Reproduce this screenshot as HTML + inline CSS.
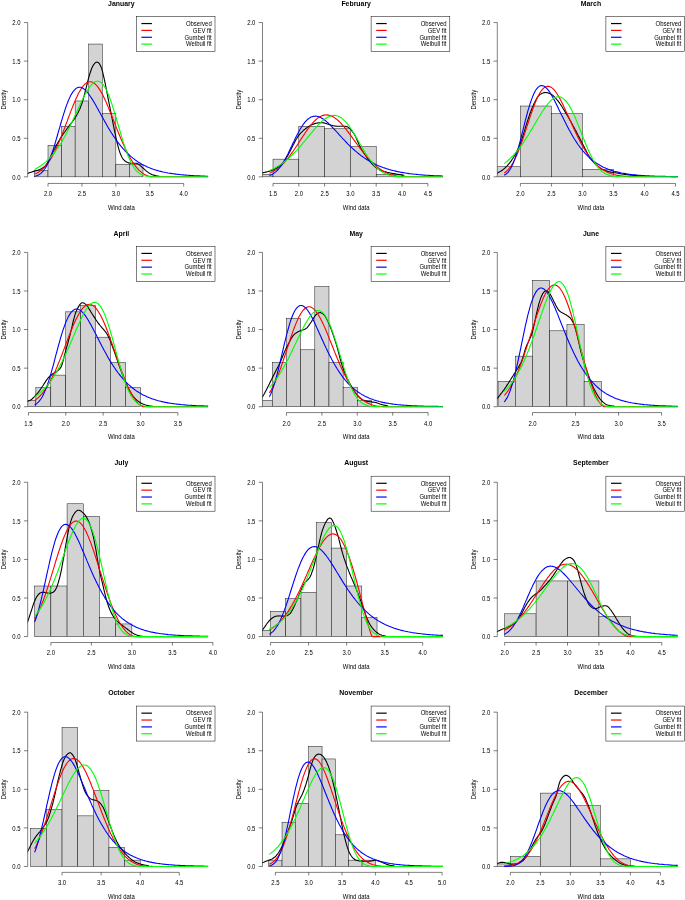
<!DOCTYPE html>
<html lang="en"><head><meta charset="utf-8"><title>Monthly wind data density fits</title>
<style>
html,body{margin:0;padding:0;background:#fff;}
body{width:685px;height:900px;overflow:hidden;}
svg{display:block;}
</style></head><body>
<svg width="685" height="900" viewBox="0 0 685 900" font-family='"Liberation Sans", sans-serif' font-size="5.95" fill="#000">
<defs>
<clipPath id="cp0"><rect x="27.70" y="16.38" width="187.30" height="166.64"/></clipPath>
<clipPath id="cp1"><rect x="262.50" y="16.38" width="187.30" height="166.64"/></clipPath>
<clipPath id="cp2"><rect x="497.30" y="16.38" width="187.30" height="166.64"/></clipPath>
<clipPath id="cp3"><rect x="27.70" y="246.25" width="187.30" height="166.64"/></clipPath>
<clipPath id="cp4"><rect x="262.50" y="246.25" width="187.30" height="166.64"/></clipPath>
<clipPath id="cp5"><rect x="497.30" y="246.25" width="187.30" height="166.64"/></clipPath>
<clipPath id="cp6"><rect x="27.70" y="476.12" width="187.30" height="166.64"/></clipPath>
<clipPath id="cp7"><rect x="262.50" y="476.12" width="187.30" height="166.64"/></clipPath>
<clipPath id="cp8"><rect x="497.30" y="476.12" width="187.30" height="166.64"/></clipPath>
<clipPath id="cp9"><rect x="27.70" y="705.99" width="187.30" height="166.64"/></clipPath>
<clipPath id="cp10"><rect x="262.50" y="705.99" width="187.30" height="166.64"/></clipPath>
<clipPath id="cp11"><rect x="497.30" y="705.99" width="187.30" height="166.64"/></clipPath>
</defs>
<g id="panel-january">
<text transform="translate(121.35,5.75) scale(1,1.06)" text-anchor="middle" font-size="6.9" font-weight="bold">January</text>
<g clip-path="url(#cp0)" stroke="#000" stroke-width="0.45" fill="#d3d3d3">
<rect x="34.43" y="170.53" width="13.57" height="6.32"/>
<rect x="48.00" y="145.23" width="13.57" height="31.62"/>
<rect x="61.57" y="126.26" width="13.57" height="50.59"/>
<rect x="75.14" y="100.96" width="13.57" height="75.89"/>
<rect x="88.71" y="44.05" width="13.57" height="132.80"/>
<rect x="102.28" y="113.61" width="13.57" height="63.24"/>
<rect x="115.85" y="164.20" width="13.57" height="12.65"/>
<rect x="129.42" y="164.20" width="13.57" height="12.65"/>
</g>
<g clip-path="url(#cp0)" fill="none" stroke-width="1.1" stroke-linejoin="round">
<path d="M19.7,175.7 20.4,175.5 21.1,175.4 21.8,175.1 22.5,174.9 23.2,174.7 23.9,174.5 24.6,174.3 25.3,174.0 26.0,173.8 26.7,173.6 27.4,173.4 28.1,173.2 28.8,172.9 29.5,172.7 30.2,172.5 30.9,172.3 31.6,172.1 32.3,171.8 33.0,171.6 33.7,171.4 34.4,171.2 35.2,171.0 35.9,170.8 36.6,170.6 37.3,170.4 38.0,170.2 38.7,169.9 39.4,169.7 40.1,169.4 40.8,169.1 41.5,168.7 42.2,168.3 42.9,167.8 43.6,167.3 44.3,166.7 45.0,166.1 45.7,165.3 46.4,164.4 47.1,163.4 47.8,162.2 48.5,161.0 49.2,159.7 49.9,158.4 50.6,157.0 51.3,155.5 52.0,154.0 52.7,152.5 53.4,151.1 54.1,149.6 54.8,148.3 55.5,146.9 56.2,145.6 56.9,144.4 57.6,143.1 58.3,141.9 59.0,140.7 59.7,139.6 60.4,138.4 61.1,137.3 61.8,136.2 62.5,135.1 63.2,134.0 63.9,133.0 64.7,132.0 65.4,131.0 66.1,130.0 66.8,129.0 67.5,128.0 68.2,127.1 68.9,126.1 69.6,125.2 70.3,124.3 71.0,123.4 71.7,122.5 72.4,121.6 73.1,120.6 73.8,119.7 74.5,118.6 75.2,117.6 75.9,116.4 76.6,115.2 77.3,114.0 78.0,112.7 78.7,111.3 79.4,109.8 80.1,108.2 80.8,106.4 81.5,104.5 82.2,102.5 82.9,100.2 83.6,97.7 84.3,95.1 85.0,92.4 85.7,89.7 86.4,86.9 87.1,84.0 87.8,81.2 88.5,78.4 89.2,75.9 89.9,73.6 90.6,71.5 91.3,69.5 92.0,67.8 92.7,66.3 93.4,65.1 94.2,64.0 94.9,63.2 95.6,62.6 96.3,62.2 97.0,62.1 97.7,62.3 98.4,62.7 99.1,63.4 99.8,64.4 100.5,65.7 101.2,67.3 101.9,69.4 102.6,71.9 103.3,74.8 104.0,77.8 104.7,81.1 105.4,84.5 106.1,88.0 106.8,91.6 107.5,95.2 108.2,98.8 108.9,102.3 109.6,105.8 110.3,109.3 111.0,112.9 111.7,116.4 112.4,120.0 113.1,123.6 113.8,127.1 114.5,130.6 115.2,134.0 115.9,137.3 116.6,140.4 117.3,143.4 118.0,146.1 118.7,148.7 119.4,151.0 120.1,153.0 120.8,154.8 121.5,156.3 122.2,157.7 122.9,158.8 123.7,159.7 124.4,160.5 125.1,161.1 125.8,161.5 126.5,162.0 127.2,162.3 127.9,162.6 128.6,162.9 129.3,163.0 130.0,163.1 130.7,163.2 131.4,163.2 132.1,163.2 132.8,163.2 133.5,163.2 134.2,163.2 134.9,163.3 135.6,163.3 136.3,163.3 137.0,163.5 137.7,163.8 138.4,164.1 139.1,164.6 139.8,165.2 140.5,165.8 141.2,166.4 141.9,167.1 142.6,167.7 143.3,168.3 144.0,168.9 144.7,169.6 145.4,170.2 146.1,170.8 146.8,171.4 147.5,171.9 148.2,172.4 148.9,172.9 149.6,173.3 150.3,173.7 151.0,174.0 151.7,174.4 152.4,174.7 153.2,174.9 153.9,175.2 154.6,175.4 155.3,175.6 156.0,175.7 156.7,175.9 157.4,176.0 158.1,176.1 158.8,176.2 159.5,176.3" stroke="#000"/>
<path d="M34.6,174.0 35.9,173.5 37.1,172.9 38.4,172.2 39.6,171.4 40.9,170.5 42.1,169.5 43.4,168.4 44.6,167.1 45.9,165.7 47.1,164.2 48.4,162.5 49.6,160.7 50.9,158.7 52.1,156.6 53.4,154.3 54.6,151.9 55.8,149.3 57.1,146.6 58.3,143.8 59.6,140.8 60.8,137.8 62.1,134.6 63.3,131.4 64.6,128.1 65.8,124.7 67.1,121.4 68.3,118.0 69.6,114.7 70.8,111.4 72.1,108.1 73.3,105.0 74.6,102.0 75.8,99.1 77.1,96.4 78.3,93.8 79.6,91.5 80.8,89.4 82.0,87.5 83.3,85.9 84.5,84.5 85.8,83.4 87.0,82.5 88.3,82.0 89.5,81.7 90.8,81.7 92.0,82.0 93.3,82.6 94.5,83.5 95.8,84.6 97.0,85.9 98.3,87.6 99.5,89.4 100.8,91.4 102.0,93.7 103.3,96.1 104.5,98.7 105.8,101.4 107.0,104.2 108.2,107.1 109.5,110.2 110.7,113.3 112.0,116.4 113.2,119.6 114.5,122.7 115.7,125.9 117.0,129.1 118.2,132.2 119.5,135.3 120.7,138.3 122.0,141.2 123.2,144.1 124.5,146.8 125.7,149.5 127.0,152.0 128.2,154.5 129.5,156.8 130.7,159.0 132.0,161.0 133.2,163.0 134.5,164.8 135.7,166.4 136.9,167.9 138.2,169.3 139.4,170.6 140.7,171.7 141.9,172.7 143.2,173.6 144.4,174.4 145.7,175.0 146.9,175.6 148.2,176.0 149.4,176.3 150.7,176.6 151.9,176.7 153.2,176.8 154.4,176.8 155.7,176.8 156.9,176.8 158.2,176.8 159.4,176.8 160.7,176.8 161.9,176.8 163.1,176.8 164.4,176.8 165.6,176.8 166.9,176.8 168.1,176.8 169.4,176.8 170.6,176.8 171.9,176.8 173.1,176.8 174.4,176.8 175.6,176.8 176.9,176.8 178.1,176.8 179.4,176.8 180.6,176.8 181.9,176.8 183.1,176.8 184.4,176.8 185.6,176.8 186.9,176.8 188.1,176.8 189.3,176.8 190.6,176.8 191.8,176.8 193.1,176.8 194.3,176.8 195.6,176.8 196.8,176.8 198.1,176.8 199.3,176.8 200.6,176.8 201.8,176.8 203.1,176.8 204.3,176.8 205.6,176.8 206.8,176.8 208.1,176.8" stroke="#ff0000"/>
<path d="M34.6,176.2 35.9,176.0 37.1,175.5 38.4,175.0 39.6,174.3 40.9,173.4 42.1,172.2 43.4,170.9 44.6,169.2 45.9,167.2 47.1,164.9 48.4,162.3 49.6,159.4 50.9,156.2 52.1,152.7 53.4,148.9 54.6,145.0 55.8,140.8 57.1,136.5 58.3,132.2 59.6,127.8 60.8,123.5 62.1,119.2 63.3,115.1 64.6,111.1 65.8,107.4 67.1,103.9 68.3,100.8 69.6,97.9 70.8,95.3 72.1,93.1 73.3,91.3 74.6,89.8 75.8,88.6 77.1,87.8 78.3,87.4 79.6,87.2 80.8,87.3 82.0,87.8 83.3,88.5 84.5,89.4 85.8,90.6 87.0,91.9 88.3,93.5 89.5,95.2 90.8,97.0 92.0,98.9 93.3,101.0 94.5,103.1 95.8,105.3 97.0,107.5 98.3,109.7 99.5,112.0 100.8,114.3 102.0,116.6 103.3,118.8 104.5,121.1 105.8,123.3 107.0,125.5 108.2,127.6 109.5,129.7 110.7,131.7 112.0,133.7 113.2,135.6 114.5,137.5 115.7,139.3 117.0,141.0 118.2,142.7 119.5,144.3 120.7,145.9 122.0,147.4 123.2,148.9 124.5,150.2 125.7,151.6 127.0,152.8 128.2,154.0 129.5,155.2 130.7,156.3 132.0,157.4 133.2,158.4 134.5,159.3 135.7,160.3 136.9,161.1 138.2,162.0 139.4,162.7 140.7,163.5 141.9,164.2 143.2,164.9 144.4,165.5 145.7,166.1 146.9,166.7 148.2,167.3 149.4,167.8 150.7,168.3 151.9,168.7 153.2,169.2 154.4,169.6 155.7,170.0 156.9,170.4 158.2,170.7 159.4,171.1 160.7,171.4 161.9,171.7 163.1,172.0 164.4,172.2 165.6,172.5 166.9,172.7 168.1,173.0 169.4,173.2 170.6,173.4 171.9,173.6 173.1,173.8 174.4,173.9 175.6,174.1 176.9,174.3 178.1,174.4 179.4,174.5 180.6,174.7 181.9,174.8 183.1,174.9 184.4,175.0 185.6,175.1 186.9,175.2 188.1,175.3 189.3,175.4 190.6,175.5 191.8,175.5 193.1,175.6 194.3,175.7 195.6,175.8 196.8,175.8 198.1,175.9 199.3,175.9 200.6,176.0 201.8,176.0 203.1,176.1 204.3,176.1 205.6,176.2 206.8,176.2 208.1,176.2" stroke="#0000ff"/>
<path d="M34.6,169.4 35.9,168.8 37.1,168.1 38.4,167.3 39.6,166.6 40.9,165.7 42.1,164.8 43.4,163.9 44.6,162.9 45.9,161.8 47.1,160.7 48.4,159.5 49.6,158.2 50.9,156.9 52.1,155.4 53.4,153.9 54.6,152.4 55.8,150.7 57.1,149.0 58.3,147.1 59.6,145.2 60.8,143.2 62.1,141.2 63.3,139.0 64.6,136.8 65.8,134.5 67.1,132.1 68.3,129.7 69.6,127.1 70.8,124.6 72.1,122.0 73.3,119.3 74.6,116.6 75.8,113.9 77.1,111.2 78.3,108.5 79.6,105.8 80.8,103.1 82.0,100.5 83.3,98.0 84.5,95.6 85.8,93.3 87.0,91.1 88.3,89.1 89.5,87.2 90.8,85.6 92.0,84.2 93.3,83.0 94.5,82.1 95.8,81.5 97.0,81.2 98.3,81.3 99.5,81.6 100.8,82.4 102.0,83.4 103.3,84.9 104.5,86.7 105.8,88.8 107.0,91.3 108.2,94.2 109.5,97.3 110.7,100.7 112.0,104.3 113.2,108.2 114.5,112.3 115.7,116.4 117.0,120.7 118.2,125.0 119.5,129.4 120.7,133.6 122.0,137.8 123.2,141.9 124.5,145.8 125.7,149.5 127.0,152.9 128.2,156.2 129.5,159.1 130.7,161.8 132.0,164.2 133.2,166.4 134.5,168.3 135.7,169.9 136.9,171.3 138.2,172.4 139.4,173.4 140.7,174.2 141.9,174.8 143.2,175.3 144.4,175.7 145.7,176.0 146.9,176.3 148.2,176.5 149.4,176.6 150.7,176.7 151.9,176.7 153.2,176.8 154.4,176.8 155.7,176.8 156.9,176.8 158.2,176.8 159.4,176.8 160.7,176.8 161.9,176.8 163.1,176.8 164.4,176.8 165.6,176.8 166.9,176.8 168.1,176.8 169.4,176.8 170.6,176.8 171.9,176.8 173.1,176.8 174.4,176.8 175.6,176.8 176.9,176.8 178.1,176.8 179.4,176.8 180.6,176.8 181.9,176.8 183.1,176.8 184.4,176.8 185.6,176.8 186.9,176.8 188.1,176.8 189.3,176.8 190.6,176.8 191.8,176.8 193.1,176.8 194.3,176.8 195.6,176.8 196.8,176.8 198.1,176.8 199.3,176.8 200.6,176.8 201.8,176.8 203.1,176.8 204.3,176.8 205.6,176.8 206.8,176.8 208.1,176.8" stroke="#00ff00"/>
</g>
<g stroke="#000" stroke-width="0.5" fill="none">
<path d="M27.70,176.85 V22.55 M27.70,176.85 h-3.8 M27.70,138.27 h-3.8 M27.70,99.70 h-3.8 M27.70,61.12 h-3.8 M27.70,22.55 h-3.8"/>
<path d="M48.00,183.45 H183.70 M48.00,183.45 v3.1 M81.92,183.45 v3.1 M115.85,183.45 v3.1 M149.77,183.45 v3.1 M183.70,183.45 v3.1"/>
</g>
<text transform="translate(20.60,179.55) scale(1,1.06)" text-anchor="end">0.0</text>
<text transform="translate(20.60,140.97) scale(1,1.06)" text-anchor="end">0.5</text>
<text transform="translate(20.60,102.40) scale(1,1.06)" text-anchor="end">1.0</text>
<text transform="translate(20.60,63.82) scale(1,1.06)" text-anchor="end">1.5</text>
<text transform="translate(20.60,25.25) scale(1,1.06)" text-anchor="end">2.0</text>
<text transform="translate(48.00,196.45) scale(1,1.06)" text-anchor="middle">2.0</text>
<text transform="translate(81.92,196.45) scale(1,1.06)" text-anchor="middle">2.5</text>
<text transform="translate(115.85,196.45) scale(1,1.06)" text-anchor="middle">3.0</text>
<text transform="translate(149.77,196.45) scale(1,1.06)" text-anchor="middle">3.5</text>
<text transform="translate(183.70,196.45) scale(1,1.06)" text-anchor="middle">4.0</text>
<text transform="translate(121.35,209.85) scale(1,1.06)" text-anchor="middle">Wind data</text>
<text transform="translate(5.90,99.70) rotate(-90) scale(1,1.06)" text-anchor="middle">Density</text>
<rect x="136.30" y="16.45" width="78.70" height="35.00" fill="#fff" stroke="#000" stroke-width="0.5"/>
<path d="M141.40,23.55 h10.5" stroke="#000" stroke-width="1.2" fill="none"/>
<text transform="translate(211.70,25.85) scale(1,1.06)" text-anchor="end">Observed</text>
<path d="M141.40,30.42 h10.5" stroke="#ff0000" stroke-width="1.2" fill="none"/>
<text transform="translate(211.70,32.72) scale(1,1.06)" text-anchor="end">GEV fit</text>
<path d="M141.40,37.29 h10.5" stroke="#0000ff" stroke-width="1.2" fill="none"/>
<text transform="translate(211.70,39.59) scale(1,1.06)" text-anchor="end">Gumbel fit</text>
<path d="M141.40,44.16 h10.5" stroke="#00ff00" stroke-width="1.2" fill="none"/>
<text transform="translate(211.70,46.46) scale(1,1.06)" text-anchor="end">Weibull fit</text>
</g>
<g id="panel-february">
<text transform="translate(356.15,5.75) scale(1,1.06)" text-anchor="middle" font-size="6.9" font-weight="bold">February</text>
<g clip-path="url(#cp1)" stroke="#000" stroke-width="0.45" fill="#d3d3d3">
<rect x="247.20" y="174.32" width="25.80" height="2.53"/>
<rect x="273.00" y="159.14" width="25.80" height="17.71"/>
<rect x="298.80" y="126.26" width="25.80" height="50.59"/>
<rect x="324.60" y="128.79" width="25.80" height="48.06"/>
<rect x="350.40" y="146.50" width="25.80" height="30.35"/>
<rect x="376.20" y="174.32" width="25.80" height="2.53"/>
</g>
<g clip-path="url(#cp1)" fill="none" stroke-width="1.1" stroke-linejoin="round">
<path d="M254.5,175.0 255.3,174.9 256.0,174.7 256.8,174.5 257.5,174.3 258.3,174.1 259.0,173.9 259.8,173.7 260.5,173.5 261.3,173.3 262.0,173.0 262.8,172.8 263.5,172.6 264.3,172.5 265.0,172.3 265.8,172.1 266.6,171.9 267.3,171.7 268.1,171.5 268.8,171.3 269.6,171.1 270.3,170.9 271.1,170.7 271.8,170.4 272.6,170.1 273.3,169.8 274.1,169.5 274.8,169.1 275.6,168.7 276.3,168.2 277.1,167.8 277.9,167.2 278.6,166.7 279.4,166.1 280.1,165.4 280.9,164.8 281.6,164.1 282.4,163.3 283.1,162.5 283.9,161.6 284.6,160.7 285.4,159.5 286.1,158.3 286.9,157.0 287.7,155.7 288.4,154.3 289.2,152.8 289.9,151.4 290.7,150.0 291.4,148.6 292.2,147.1 292.9,145.6 293.7,144.2 294.4,142.7 295.2,141.2 295.9,139.8 296.7,138.5 297.4,137.2 298.2,136.1 299.0,135.1 299.7,134.2 300.5,133.3 301.2,132.5 302.0,131.8 302.7,131.1 303.5,130.4 304.2,129.7 305.0,129.1 305.7,128.5 306.5,128.0 307.2,127.4 308.0,126.9 308.7,126.4 309.5,126.0 310.3,125.5 311.0,125.1 311.8,124.8 312.5,124.5 313.3,124.1 314.0,123.9 314.8,123.6 315.5,123.4 316.3,123.2 317.0,123.1 317.8,123.0 318.5,122.8 319.3,122.8 320.0,122.7 320.8,122.7 321.6,122.7 322.3,122.7 323.1,122.8 323.8,122.9 324.6,123.1 325.3,123.3 326.1,123.5 326.8,123.8 327.6,124.0 328.3,124.3 329.1,124.5 329.8,124.7 330.6,125.0 331.4,125.2 332.1,125.4 332.9,125.6 333.6,125.7 334.4,125.9 335.1,126.0 335.9,126.1 336.6,126.2 337.4,126.2 338.1,126.2 338.9,126.3 339.6,126.2 340.4,126.2 341.1,126.2 341.9,126.2 342.7,126.2 343.4,126.2 344.2,126.2 344.9,126.3 345.7,126.4 346.4,126.6 347.2,126.8 347.9,127.1 348.7,127.6 349.4,128.2 350.2,128.9 350.9,129.7 351.7,130.6 352.4,131.6 353.2,132.7 354.0,133.8 354.7,135.1 355.5,136.5 356.2,138.0 357.0,139.7 357.7,141.5 358.5,143.2 359.2,144.9 360.0,146.5 360.7,148.0 361.5,149.3 362.2,150.6 363.0,151.8 363.7,153.0 364.5,154.2 365.3,155.3 366.0,156.3 366.8,157.4 367.5,158.4 368.3,159.3 369.0,160.2 369.8,161.2 370.5,162.1 371.3,162.9 372.0,163.8 372.8,164.6 373.5,165.4 374.3,166.2 375.1,166.9 375.8,167.5 376.6,168.1 377.3,168.6 378.1,169.0 378.8,169.4 379.6,169.8 380.3,170.1 381.1,170.4 381.8,170.7 382.6,171.0 383.3,171.2 384.1,171.5 384.8,171.7 385.6,171.9 386.4,172.1 387.1,172.3 387.9,172.5 388.6,172.6 389.4,172.8 390.1,173.0 390.9,173.1 391.6,173.2 392.4,173.4 393.1,173.5 393.9,173.6 394.6,173.8 395.4,173.9 396.1,174.0 396.9,174.2 397.7,174.3 398.4,174.4 399.2,174.5 399.9,174.7 400.7,174.8 401.4,174.9 402.2,175.0 402.9,175.1 403.7,175.2 404.4,175.3" stroke="#000"/>
<path d="M269.4,173.2 270.7,172.7 271.9,172.1 273.2,171.5 274.4,170.7 275.7,169.9 276.9,169.1 278.2,168.2 279.4,167.2 280.7,166.1 281.9,164.9 283.2,163.7 284.4,162.3 285.7,161.0 286.9,159.5 288.2,158.0 289.4,156.3 290.6,154.7 291.9,152.9 293.1,151.2 294.4,149.3 295.6,147.5 296.9,145.6 298.1,143.7 299.4,141.7 300.6,139.8 301.9,137.9 303.1,136.0 304.4,134.1 305.6,132.2 306.9,130.4 308.1,128.7 309.4,127.0 310.6,125.4 311.9,123.9 313.1,122.5 314.4,121.2 315.6,120.0 316.8,118.9 318.1,117.9 319.3,117.1 320.6,116.4 321.8,115.8 323.1,115.4 324.3,115.1 325.6,115.0 326.8,114.9 328.1,115.1 329.3,115.3 330.6,115.7 331.8,116.2 333.1,116.8 334.3,117.6 335.6,118.5 336.8,119.4 338.1,120.5 339.3,121.7 340.6,122.9 341.8,124.3 343.0,125.7 344.3,127.2 345.5,128.7 346.8,130.3 348.0,131.9 349.3,133.6 350.5,135.2 351.8,136.9 353.0,138.6 354.3,140.4 355.5,142.1 356.8,143.8 358.0,145.5 359.3,147.2 360.5,148.8 361.8,150.4 363.0,152.0 364.3,153.6 365.5,155.1 366.8,156.6 368.0,158.0 369.3,159.4 370.5,160.7 371.7,162.0 373.0,163.2 374.2,164.3 375.5,165.4 376.7,166.5 378.0,167.5 379.2,168.4 380.5,169.3 381.7,170.1 383.0,170.9 384.2,171.6 385.5,172.3 386.7,172.9 388.0,173.4 389.2,173.9 390.5,174.4 391.7,174.8 393.0,175.1 394.2,175.5 395.5,175.7 396.7,176.0 397.9,176.2 399.2,176.4 400.4,176.5 401.7,176.6 402.9,176.7 404.2,176.8 405.4,176.8 406.7,176.8 407.9,176.8 409.2,176.8 410.4,176.8 411.7,176.8 412.9,176.8 414.2,176.8 415.4,176.8 416.7,176.8 417.9,176.8 419.2,176.8 420.4,176.8 421.7,176.8 422.9,176.8 424.1,176.8 425.4,176.8 426.6,176.8 427.9,176.8 429.1,176.8 430.4,176.8 431.6,176.8 432.9,176.8 434.1,176.8 435.4,176.8 436.6,176.8 437.9,176.8 439.1,176.8 440.4,176.8 441.6,176.8 442.9,176.8" stroke="#ff0000"/>
<path d="M269.4,175.5 270.7,175.0 271.9,174.4 273.2,173.7 274.4,172.9 275.7,171.9 276.9,170.8 278.2,169.5 279.4,168.0 280.7,166.4 281.9,164.6 283.2,162.6 284.4,160.5 285.7,158.2 286.9,155.9 288.2,153.4 289.4,150.8 290.6,148.2 291.9,145.6 293.1,143.0 294.4,140.4 295.6,137.8 296.9,135.3 298.1,132.9 299.4,130.6 300.6,128.5 301.9,126.5 303.1,124.6 304.4,122.9 305.6,121.4 306.9,120.1 308.1,119.0 309.4,118.1 310.6,117.3 311.9,116.8 313.1,116.4 314.4,116.2 315.6,116.1 316.8,116.3 318.1,116.6 319.3,117.0 320.6,117.5 321.8,118.2 323.1,119.0 324.3,119.8 325.6,120.8 326.8,121.9 328.1,123.0 329.3,124.2 330.6,125.4 331.8,126.7 333.1,128.0 334.3,129.3 335.6,130.7 336.8,132.0 338.1,133.4 339.3,134.8 340.6,136.1 341.8,137.5 343.0,138.9 344.3,140.2 345.5,141.5 346.8,142.8 348.0,144.1 349.3,145.3 350.5,146.5 351.8,147.7 353.0,148.9 354.3,150.0 355.5,151.1 356.8,152.2 358.0,153.2 359.3,154.2 360.5,155.2 361.8,156.1 363.0,157.0 364.3,157.9 365.5,158.7 366.8,159.5 368.0,160.3 369.3,161.0 370.5,161.8 371.7,162.4 373.0,163.1 374.2,163.7 375.5,164.3 376.7,164.9 378.0,165.5 379.2,166.0 380.5,166.5 381.7,167.0 383.0,167.5 384.2,167.9 385.5,168.3 386.7,168.8 388.0,169.1 389.2,169.5 390.5,169.9 391.7,170.2 393.0,170.5 394.2,170.8 395.5,171.1 396.7,171.4 397.9,171.7 399.2,171.9 400.4,172.2 401.7,172.4 402.9,172.6 404.2,172.8 405.4,173.0 406.7,173.2 407.9,173.4 409.2,173.6 410.4,173.7 411.7,173.9 412.9,174.0 414.2,174.2 415.4,174.3 416.7,174.4 417.9,174.5 419.2,174.7 420.4,174.8 421.7,174.9 422.9,175.0 424.1,175.1 425.4,175.2 426.6,175.2 427.9,175.3 429.1,175.4 430.4,175.5 431.6,175.5 432.9,175.6 434.1,175.7 435.4,175.7 436.6,175.8 437.9,175.8 439.1,175.9 440.4,175.9 441.6,176.0 442.9,176.0" stroke="#0000ff"/>
<path d="M269.4,170.5 270.7,170.0 271.9,169.4 273.2,168.8 274.4,168.2 275.7,167.5 276.9,166.8 278.2,166.1 279.4,165.3 280.7,164.5 281.9,163.6 283.2,162.7 284.4,161.8 285.7,160.8 286.9,159.8 288.2,158.7 289.4,157.6 290.6,156.4 291.9,155.2 293.1,154.0 294.4,152.7 295.6,151.4 296.9,150.1 298.1,148.7 299.4,147.3 300.6,145.9 301.9,144.4 303.1,142.9 304.4,141.4 305.6,139.9 306.9,138.4 308.1,136.9 309.4,135.3 310.6,133.8 311.9,132.3 313.1,130.8 314.4,129.3 315.6,127.9 316.8,126.5 318.1,125.1 319.3,123.8 320.6,122.6 321.8,121.4 323.1,120.4 324.3,119.4 325.6,118.5 326.8,117.7 328.1,117.0 329.3,116.4 330.6,116.0 331.8,115.6 333.1,115.5 334.3,115.4 335.6,115.5 336.8,115.8 338.1,116.2 339.3,116.8 340.6,117.5 341.8,118.3 343.0,119.3 344.3,120.5 345.5,121.8 346.8,123.2 348.0,124.7 349.3,126.4 350.5,128.2 351.8,130.0 353.0,132.0 354.3,134.0 355.5,136.1 356.8,138.2 358.0,140.3 359.3,142.5 360.5,144.7 361.8,146.8 363.0,148.9 364.3,151.0 365.5,153.1 366.8,155.1 368.0,157.0 369.3,158.8 370.5,160.5 371.7,162.2 373.0,163.7 374.2,165.2 375.5,166.5 376.7,167.8 378.0,168.9 379.2,170.0 380.5,170.9 381.7,171.7 383.0,172.5 384.2,173.2 385.5,173.7 386.7,174.3 388.0,174.7 389.2,175.1 390.5,175.4 391.7,175.7 393.0,175.9 394.2,176.1 395.5,176.2 396.7,176.4 397.9,176.5 399.2,176.6 400.4,176.6 401.7,176.7 402.9,176.7 404.2,176.8 405.4,176.8 406.7,176.8 407.9,176.8 409.2,176.8 410.4,176.8 411.7,176.8 412.9,176.8 414.2,176.8 415.4,176.8 416.7,176.8 417.9,176.8 419.2,176.8 420.4,176.8 421.7,176.8 422.9,176.8 424.1,176.8 425.4,176.8 426.6,176.8 427.9,176.8 429.1,176.8 430.4,176.8 431.6,176.8 432.9,176.8 434.1,176.8 435.4,176.8 436.6,176.8 437.9,176.8 439.1,176.8 440.4,176.8 441.6,176.8 442.9,176.8" stroke="#00ff00"/>
</g>
<g stroke="#000" stroke-width="0.5" fill="none">
<path d="M262.50,176.85 V22.55 M262.50,176.85 h-3.8 M262.50,138.27 h-3.8 M262.50,99.70 h-3.8 M262.50,61.12 h-3.8 M262.50,22.55 h-3.8"/>
<path d="M273.00,183.45 H427.80 M273.00,183.45 v3.1 M298.80,183.45 v3.1 M324.60,183.45 v3.1 M350.40,183.45 v3.1 M376.20,183.45 v3.1 M402.00,183.45 v3.1 M427.80,183.45 v3.1"/>
</g>
<text transform="translate(255.40,179.55) scale(1,1.06)" text-anchor="end">0.0</text>
<text transform="translate(255.40,140.97) scale(1,1.06)" text-anchor="end">0.5</text>
<text transform="translate(255.40,102.40) scale(1,1.06)" text-anchor="end">1.0</text>
<text transform="translate(255.40,63.82) scale(1,1.06)" text-anchor="end">1.5</text>
<text transform="translate(255.40,25.25) scale(1,1.06)" text-anchor="end">2.0</text>
<text transform="translate(273.00,196.45) scale(1,1.06)" text-anchor="middle">1.5</text>
<text transform="translate(298.80,196.45) scale(1,1.06)" text-anchor="middle">2.0</text>
<text transform="translate(324.60,196.45) scale(1,1.06)" text-anchor="middle">2.5</text>
<text transform="translate(350.40,196.45) scale(1,1.06)" text-anchor="middle">3.0</text>
<text transform="translate(376.20,196.45) scale(1,1.06)" text-anchor="middle">3.5</text>
<text transform="translate(402.00,196.45) scale(1,1.06)" text-anchor="middle">4.0</text>
<text transform="translate(427.80,196.45) scale(1,1.06)" text-anchor="middle">4.5</text>
<text transform="translate(356.15,209.85) scale(1,1.06)" text-anchor="middle">Wind data</text>
<text transform="translate(240.70,99.70) rotate(-90) scale(1,1.06)" text-anchor="middle">Density</text>
<rect x="371.10" y="16.45" width="78.70" height="35.00" fill="#fff" stroke="#000" stroke-width="0.5"/>
<path d="M376.20,23.55 h10.5" stroke="#000" stroke-width="1.2" fill="none"/>
<text transform="translate(446.50,25.85) scale(1,1.06)" text-anchor="end">Observed</text>
<path d="M376.20,30.42 h10.5" stroke="#ff0000" stroke-width="1.2" fill="none"/>
<text transform="translate(446.50,32.72) scale(1,1.06)" text-anchor="end">GEV fit</text>
<path d="M376.20,37.29 h10.5" stroke="#0000ff" stroke-width="1.2" fill="none"/>
<text transform="translate(446.50,39.59) scale(1,1.06)" text-anchor="end">Gumbel fit</text>
<path d="M376.20,44.16 h10.5" stroke="#00ff00" stroke-width="1.2" fill="none"/>
<text transform="translate(446.50,46.46) scale(1,1.06)" text-anchor="end">Weibull fit</text>
</g>
<g id="panel-march">
<text transform="translate(590.95,5.75) scale(1,1.06)" text-anchor="middle" font-size="6.9" font-weight="bold">March</text>
<g clip-path="url(#cp2)" stroke="#000" stroke-width="0.45" fill="#d3d3d3">
<rect x="489.38" y="166.73" width="31.02" height="10.12"/>
<rect x="520.40" y="106.02" width="31.02" height="70.83"/>
<rect x="551.42" y="113.61" width="31.02" height="63.24"/>
<rect x="582.45" y="169.26" width="31.02" height="7.59"/>
</g>
<g clip-path="url(#cp2)" fill="none" stroke-width="1.1" stroke-linejoin="round">
<path d="M489.3,176.7 490.1,176.5 490.8,176.2 491.6,175.9 492.3,175.6 493.1,175.2 493.8,174.8 494.6,174.5 495.3,174.1 496.1,173.7 496.8,173.3 497.6,172.9 498.4,172.5 499.1,172.1 499.9,171.6 500.6,171.2 501.4,170.7 502.1,170.2 502.9,169.7 503.6,169.1 504.4,168.5 505.1,167.8 505.9,167.1 506.7,166.4 507.4,165.6 508.2,164.7 508.9,163.8 509.7,162.9 510.4,161.9 511.2,160.9 511.9,159.8 512.7,158.7 513.4,157.5 514.2,156.3 515.0,155.0 515.7,153.6 516.5,152.1 517.2,150.6 518.0,149.1 518.7,147.4 519.5,145.7 520.2,143.8 521.0,141.8 521.7,139.7 522.5,137.3 523.2,134.9 524.0,132.3 524.8,129.8 525.5,127.2 526.3,124.7 527.0,122.3 527.8,120.1 528.5,117.8 529.3,115.7 530.0,113.5 530.8,111.5 531.5,109.5 532.3,107.6 533.1,105.8 533.8,104.1 534.6,102.5 535.3,101.0 536.1,99.6 536.8,98.2 537.6,97.0 538.3,96.1 539.1,95.3 539.8,94.6 540.6,94.1 541.4,93.7 542.1,93.3 542.9,93.0 543.6,92.7 544.4,92.6 545.1,92.5 545.9,92.5 546.6,92.6 547.4,92.7 548.1,92.9 548.9,93.2 549.7,93.5 550.4,93.9 551.2,94.2 551.9,94.7 552.7,95.2 553.4,95.9 554.2,96.6 554.9,97.4 555.7,98.2 556.4,99.1 557.2,100.0 558.0,100.9 558.7,101.9 559.5,102.9 560.2,104.0 561.0,105.1 561.7,106.3 562.5,107.5 563.2,108.7 564.0,109.9 564.7,111.1 565.5,112.4 566.3,113.7 567.0,114.9 567.8,116.2 568.5,117.5 569.3,118.9 570.0,120.2 570.8,121.6 571.5,122.9 572.3,124.3 573.0,125.7 573.8,127.1 574.6,128.5 575.3,129.9 576.1,131.3 576.8,132.8 577.6,134.2 578.3,135.7 579.1,137.1 579.8,138.6 580.6,140.0 581.3,141.5 582.1,142.9 582.9,144.4 583.6,145.9 584.4,147.3 585.1,148.8 585.9,150.3 586.6,151.8 587.4,153.3 588.1,154.6 588.9,155.9 589.6,157.1 590.4,158.3 591.1,159.3 591.9,160.3 592.7,161.2 593.4,162.1 594.2,162.9 594.9,163.7 595.7,164.5 596.4,165.2 597.2,165.8 597.9,166.4 598.7,167.0 599.4,167.5 600.2,168.0 601.0,168.4 601.7,168.9 602.5,169.3 603.2,169.6 604.0,170.0 604.7,170.3 605.5,170.6 606.2,170.9 607.0,171.1 607.7,171.4 608.5,171.6 609.3,171.7 610.0,171.9 610.8,172.1 611.5,172.2 612.3,172.3 613.0,172.4 613.8,172.6 614.5,172.7 615.3,172.8 616.0,172.9 616.8,173.0 617.6,173.2 618.3,173.3 619.1,173.5 619.8,173.6 620.6,173.7 621.3,173.9 622.1,174.0 622.8,174.2 623.6,174.3 624.3,174.4 625.1,174.5 625.9,174.6 626.6,174.7 627.4,174.8 628.1,174.9 628.9,174.9 629.6,175.0 630.4,175.1 631.1,175.2 631.9,175.2 632.6,175.3 633.4,175.4 634.2,175.4 634.9,175.5 635.7,175.5 636.4,175.6 637.2,175.6 637.9,175.6 638.7,175.7 639.4,175.7" stroke="#000"/>
<path d="M504.2,173.0 505.5,172.1 506.7,171.0 508.0,169.7 509.2,168.3 510.5,166.7 511.7,164.8 513.0,162.7 514.2,160.5 515.5,157.9 516.7,155.2 518.0,152.3 519.2,149.1 520.5,145.8 521.7,142.3 523.0,138.7 524.2,135.0 525.4,131.2 526.7,127.4 527.9,123.5 529.2,119.7 530.4,115.9 531.7,112.3 532.9,108.7 534.2,105.4 535.4,102.2 536.7,99.3 537.9,96.6 539.2,94.2 540.4,92.1 541.7,90.3 542.9,88.8 544.2,87.7 545.4,86.9 546.7,86.4 547.9,86.2 549.2,86.4 550.4,86.9 551.6,87.6 552.9,88.6 554.1,89.9 555.4,91.5 556.6,93.2 557.9,95.2 559.1,97.3 560.4,99.6 561.6,102.0 562.9,104.5 564.1,107.2 565.4,109.9 566.6,112.6 567.9,115.4 569.1,118.2 570.4,121.0 571.6,123.8 572.9,126.5 574.1,129.3 575.4,131.9 576.6,134.5 577.8,137.1 579.1,139.6 580.3,142.0 581.6,144.3 582.8,146.5 584.1,148.6 585.3,150.7 586.6,152.6 587.8,154.5 589.1,156.2 590.3,157.9 591.6,159.4 592.8,160.9 594.1,162.3 595.3,163.6 596.6,164.8 597.8,165.9 599.1,167.0 600.3,167.9 601.6,168.8 602.8,169.7 604.1,170.4 605.3,171.1 606.5,171.8 607.8,172.4 609.0,172.9 610.3,173.4 611.5,173.8 612.8,174.2 614.0,174.6 615.3,174.9 616.5,175.2 617.8,175.4 619.0,175.6 620.3,175.8 621.5,176.0 622.8,176.1 624.0,176.3 625.3,176.4 626.5,176.5 627.8,176.5 629.0,176.6 630.3,176.7 631.5,176.7 632.7,176.7 634.0,176.8 635.2,176.8 636.5,176.8 637.7,176.8 639.0,176.8 640.2,176.8 641.5,176.8 642.7,176.8 644.0,176.8 645.2,176.8 646.5,176.8 647.7,176.8 649.0,176.8 650.2,176.8 651.5,176.8 652.7,176.8 654.0,176.8 655.2,176.8 656.5,176.8 657.7,176.8 658.9,176.8 660.2,176.8 661.4,176.8 662.7,176.8 663.9,176.8 665.2,176.8 666.4,176.8 667.7,176.8 668.9,176.8 670.2,176.8 671.4,176.8 672.7,176.8 673.9,176.8 675.2,176.8 676.4,176.8 677.7,176.8" stroke="#ff0000"/>
<path d="M504.2,175.2 505.5,174.5 506.7,173.5 508.0,172.3 509.2,170.7 510.5,168.8 511.7,166.4 513.0,163.7 514.2,160.6 515.5,157.1 516.7,153.3 518.0,149.1 519.2,144.6 520.5,139.9 521.7,135.0 523.0,130.1 524.2,125.1 525.4,120.2 526.7,115.5 527.9,110.9 529.2,106.7 530.4,102.7 531.7,99.1 532.9,95.9 534.2,93.1 535.4,90.7 536.7,88.8 537.9,87.4 539.2,86.3 540.4,85.7 541.7,85.5 542.9,85.7 544.2,86.3 545.4,87.1 546.7,88.3 547.9,89.7 549.2,91.4 550.4,93.3 551.6,95.3 552.9,97.5 554.1,99.8 555.4,102.3 556.6,104.7 557.9,107.3 559.1,109.9 560.4,112.4 561.6,115.0 562.9,117.6 564.1,120.1 565.4,122.6 566.6,125.1 567.9,127.5 569.1,129.8 570.4,132.1 571.6,134.3 572.9,136.5 574.1,138.5 575.4,140.5 576.6,142.4 577.8,144.2 579.1,146.0 580.3,147.6 581.6,149.2 582.8,150.8 584.1,152.2 585.3,153.6 586.6,154.9 587.8,156.2 589.1,157.3 590.3,158.5 591.6,159.5 592.8,160.5 594.1,161.5 595.3,162.4 596.6,163.3 597.8,164.1 599.1,164.8 600.3,165.5 601.6,166.2 602.8,166.9 604.1,167.5 605.3,168.0 606.5,168.6 607.8,169.1 609.0,169.5 610.3,170.0 611.5,170.4 612.8,170.8 614.0,171.2 615.3,171.5 616.5,171.8 617.8,172.1 619.0,172.4 620.3,172.7 621.5,173.0 622.8,173.2 624.0,173.4 625.3,173.6 626.5,173.8 627.8,174.0 629.0,174.2 630.3,174.4 631.5,174.5 632.7,174.7 634.0,174.8 635.2,174.9 636.5,175.0 637.7,175.2 639.0,175.3 640.2,175.4 641.5,175.5 642.7,175.5 644.0,175.6 645.2,175.7 646.5,175.8 647.7,175.8 649.0,175.9 650.2,176.0 651.5,176.0 652.7,176.1 654.0,176.1 655.2,176.2 656.5,176.2 657.7,176.2 658.9,176.3 660.2,176.3 661.4,176.4 662.7,176.4 663.9,176.4 665.2,176.4 666.4,176.5 667.7,176.5 668.9,176.5 670.2,176.5 671.4,176.6 672.7,176.6 673.9,176.6 675.2,176.6 676.4,176.6 677.7,176.6" stroke="#0000ff"/>
<path d="M504.2,163.6 505.5,162.6 506.7,161.6 508.0,160.5 509.2,159.4 510.5,158.2 511.7,157.0 513.0,155.7 514.2,154.3 515.5,152.9 516.7,151.4 518.0,149.8 519.2,148.2 520.5,146.6 521.7,144.9 523.0,143.1 524.2,141.3 525.4,139.4 526.7,137.4 527.9,135.5 529.2,133.5 530.4,131.4 531.7,129.4 532.9,127.3 534.2,125.2 535.4,123.0 536.7,120.9 537.9,118.8 539.2,116.8 540.4,114.7 541.7,112.7 542.9,110.8 544.2,108.9 545.4,107.1 546.7,105.4 547.9,103.8 549.2,102.4 550.4,101.1 551.6,99.9 552.9,98.9 554.1,98.1 555.4,97.5 556.6,97.0 557.9,96.8 559.1,96.8 560.4,97.1 561.6,97.6 562.9,98.3 564.1,99.3 565.4,100.5 566.6,101.9 567.9,103.6 569.1,105.5 570.4,107.6 571.6,110.0 572.9,112.5 574.1,115.2 575.4,118.0 576.6,120.9 577.8,124.0 579.1,127.1 580.3,130.3 581.6,133.5 582.8,136.7 584.1,139.8 585.3,143.0 586.6,146.0 587.8,148.9 589.1,151.7 590.3,154.4 591.6,157.0 592.8,159.3 594.1,161.5 595.3,163.5 596.6,165.4 597.8,167.1 599.1,168.6 600.3,169.9 601.6,171.0 602.8,172.1 604.1,172.9 605.3,173.7 606.5,174.3 607.8,174.8 609.0,175.3 610.3,175.6 611.5,175.9 612.8,176.1 614.0,176.3 615.3,176.5 616.5,176.6 617.8,176.6 619.0,176.7 620.3,176.7 621.5,176.8 622.8,176.8 624.0,176.8 625.3,176.8 626.5,176.8 627.8,176.8 629.0,176.8 630.3,176.8 631.5,176.8 632.7,176.8 634.0,176.8 635.2,176.8 636.5,176.8 637.7,176.8 639.0,176.8 640.2,176.8 641.5,176.8 642.7,176.8 644.0,176.8 645.2,176.8 646.5,176.8 647.7,176.8 649.0,176.8 650.2,176.8 651.5,176.8 652.7,176.8 654.0,176.8 655.2,176.8 656.5,176.8 657.7,176.8 658.9,176.8 660.2,176.8 661.4,176.8 662.7,176.8 663.9,176.8 665.2,176.8 666.4,176.8 667.7,176.8 668.9,176.8 670.2,176.8 671.4,176.8 672.7,176.8 673.9,176.8 675.2,176.8 676.4,176.8 677.7,176.8" stroke="#00ff00"/>
</g>
<g stroke="#000" stroke-width="0.5" fill="none">
<path d="M497.30,176.85 V22.55 M497.30,176.85 h-3.8 M497.30,138.27 h-3.8 M497.30,99.70 h-3.8 M497.30,61.12 h-3.8 M497.30,22.55 h-3.8"/>
<path d="M520.40,183.45 H675.52 M520.40,183.45 v3.1 M551.42,183.45 v3.1 M582.45,183.45 v3.1 M613.47,183.45 v3.1 M644.50,183.45 v3.1 M675.52,183.45 v3.1"/>
</g>
<text transform="translate(490.20,179.55) scale(1,1.06)" text-anchor="end">0.0</text>
<text transform="translate(490.20,140.97) scale(1,1.06)" text-anchor="end">0.5</text>
<text transform="translate(490.20,102.40) scale(1,1.06)" text-anchor="end">1.0</text>
<text transform="translate(490.20,63.82) scale(1,1.06)" text-anchor="end">1.5</text>
<text transform="translate(490.20,25.25) scale(1,1.06)" text-anchor="end">2.0</text>
<text transform="translate(520.40,196.45) scale(1,1.06)" text-anchor="middle">2.0</text>
<text transform="translate(551.42,196.45) scale(1,1.06)" text-anchor="middle">2.5</text>
<text transform="translate(582.45,196.45) scale(1,1.06)" text-anchor="middle">3.0</text>
<text transform="translate(613.47,196.45) scale(1,1.06)" text-anchor="middle">3.5</text>
<text transform="translate(644.50,196.45) scale(1,1.06)" text-anchor="middle">4.0</text>
<text transform="translate(675.52,196.45) scale(1,1.06)" text-anchor="middle">4.5</text>
<text transform="translate(590.95,209.85) scale(1,1.06)" text-anchor="middle">Wind data</text>
<text transform="translate(475.50,99.70) rotate(-90) scale(1,1.06)" text-anchor="middle">Density</text>
<rect x="605.90" y="16.45" width="78.70" height="35.00" fill="#fff" stroke="#000" stroke-width="0.5"/>
<path d="M611.00,23.55 h10.5" stroke="#000" stroke-width="1.2" fill="none"/>
<text transform="translate(681.30,25.85) scale(1,1.06)" text-anchor="end">Observed</text>
<path d="M611.00,30.42 h10.5" stroke="#ff0000" stroke-width="1.2" fill="none"/>
<text transform="translate(681.30,32.72) scale(1,1.06)" text-anchor="end">GEV fit</text>
<path d="M611.00,37.29 h10.5" stroke="#0000ff" stroke-width="1.2" fill="none"/>
<text transform="translate(681.30,39.59) scale(1,1.06)" text-anchor="end">Gumbel fit</text>
<path d="M611.00,44.16 h10.5" stroke="#00ff00" stroke-width="1.2" fill="none"/>
<text transform="translate(681.30,46.46) scale(1,1.06)" text-anchor="end">Weibull fit</text>
</g>
<g id="panel-april">
<text transform="translate(121.35,235.62) scale(1,1.06)" text-anchor="middle" font-size="6.9" font-weight="bold">April</text>
<g clip-path="url(#cp3)" stroke="#000" stroke-width="0.45" fill="#d3d3d3">
<rect x="20.91" y="400.40" width="14.95" height="6.32"/>
<rect x="35.86" y="387.75" width="14.95" height="18.97"/>
<rect x="50.81" y="375.10" width="14.95" height="31.62"/>
<rect x="65.76" y="311.86" width="14.95" height="94.86"/>
<rect x="80.71" y="305.54" width="14.95" height="101.18"/>
<rect x="95.66" y="337.16" width="14.95" height="69.56"/>
<rect x="110.61" y="362.45" width="14.95" height="44.27"/>
<rect x="125.56" y="387.75" width="14.95" height="18.97"/>
</g>
<g clip-path="url(#cp3)" fill="none" stroke-width="1.1" stroke-linejoin="round">
<path d="M19.7,403.8 20.4,403.6 21.0,403.5 21.7,403.2 22.4,403.0 23.1,402.8 23.7,402.5 24.4,402.3 25.1,402.1 25.7,401.8 26.4,401.6 27.1,401.4 27.7,401.2 28.4,400.9 29.1,400.7 29.8,400.5 30.4,400.1 31.1,399.8 31.8,399.3 32.4,398.7 33.1,398.0 33.8,397.3 34.4,396.6 35.1,395.9 35.8,395.1 36.5,394.4 37.1,393.6 37.8,392.9 38.5,392.0 39.1,391.2 39.8,390.3 40.5,389.3 41.1,388.3 41.8,387.3 42.5,386.3 43.2,385.2 43.8,384.2 44.5,383.1 45.2,382.1 45.8,381.1 46.5,380.1 47.2,379.2 47.8,378.3 48.5,377.5 49.2,376.8 49.9,376.1 50.5,375.6 51.2,375.0 51.9,374.5 52.5,374.0 53.2,373.6 53.9,373.1 54.6,372.7 55.2,372.3 55.9,371.9 56.6,371.5 57.2,371.0 57.9,370.5 58.6,370.0 59.2,369.4 59.9,368.6 60.6,367.7 61.3,366.4 61.9,364.8 62.6,362.7 63.3,360.2 63.9,357.6 64.6,354.9 65.3,352.3 65.9,349.8 66.6,347.4 67.3,345.0 68.0,342.6 68.6,340.1 69.3,337.7 70.0,335.1 70.6,332.4 71.3,329.7 72.0,326.8 72.6,323.9 73.3,321.0 74.0,318.3 74.7,315.9 75.3,313.8 76.0,311.9 76.7,310.3 77.3,308.9 78.0,307.6 78.7,306.4 79.3,305.3 80.0,304.4 80.7,303.7 81.4,303.1 82.0,302.8 82.7,302.7 83.4,302.9 84.0,303.1 84.7,303.6 85.4,304.1 86.1,304.7 86.7,305.5 87.4,306.3 88.1,307.2 88.7,308.3 89.4,309.4 90.1,310.5 90.7,311.6 91.4,312.7 92.1,313.8 92.8,314.8 93.4,315.9 94.1,316.9 94.8,317.9 95.4,318.9 96.1,320.0 96.8,321.0 97.4,321.9 98.1,322.9 98.8,323.8 99.5,324.7 100.1,325.5 100.8,326.3 101.5,327.1 102.1,327.9 102.8,328.6 103.5,329.4 104.1,330.2 104.8,331.0 105.5,331.9 106.2,332.8 106.8,333.8 107.5,334.9 108.2,336.2 108.8,337.5 109.5,339.0 110.2,340.6 110.9,342.3 111.5,344.1 112.2,345.9 112.9,347.8 113.5,349.6 114.2,351.4 114.9,353.3 115.5,355.2 116.2,357.1 116.9,359.0 117.6,360.9 118.2,362.9 118.9,364.8 119.6,366.7 120.2,368.5 120.9,370.4 121.6,372.2 122.2,374.0 122.9,375.7 123.6,377.5 124.3,379.2 124.9,380.9 125.6,382.5 126.3,384.0 126.9,385.5 127.6,386.9 128.3,388.2 128.9,389.5 129.6,390.8 130.3,391.9 131.0,393.1 131.6,394.2 132.3,395.1 133.0,396.1 133.6,396.9 134.3,397.7 135.0,398.4 135.6,399.1 136.3,399.7 137.0,400.3 137.7,400.9 138.3,401.4 139.0,401.8 139.7,402.3 140.3,402.7 141.0,403.0 141.7,403.4 142.4,403.7 143.0,404.0 143.7,404.3 144.4,404.6 145.0,404.8 145.7,405.0 146.4,405.2 147.0,405.4 147.7,405.5 148.4,405.7 149.1,405.8 149.7,405.9 150.4,406.0 151.1,406.1 151.7,406.2 152.4,406.2 153.1,406.2" stroke="#000"/>
<path d="M34.6,400.5 35.9,399.6 37.1,398.6 38.4,397.5 39.6,396.3 40.9,395.0 42.1,393.6 43.4,392.1 44.6,390.4 45.9,388.6 47.1,386.7 48.4,384.6 49.6,382.4 50.9,380.1 52.1,377.7 53.4,375.1 54.6,372.4 55.8,369.6 57.1,366.7 58.3,363.7 59.6,360.6 60.8,357.4 62.1,354.2 63.3,350.9 64.6,347.6 65.8,344.3 67.1,341.0 68.3,337.7 69.6,334.5 70.8,331.3 72.1,328.3 73.3,325.3 74.6,322.5 75.8,319.8 77.1,317.2 78.3,314.9 79.6,312.8 80.8,310.8 82.0,309.1 83.3,307.7 84.5,306.5 85.8,305.6 87.0,304.9 88.3,304.5 89.5,304.4 90.8,304.6 92.0,305.1 93.3,305.8 94.5,306.8 95.8,308.1 97.0,309.7 98.3,311.5 99.5,313.5 100.8,315.8 102.0,318.3 103.3,320.9 104.5,323.8 105.8,326.8 107.0,330.0 108.2,333.2 109.5,336.6 110.7,340.1 112.0,343.6 113.2,347.2 114.5,350.8 115.7,354.4 117.0,358.1 118.2,361.6 119.5,365.2 120.7,368.6 122.0,372.0 123.2,375.3 124.5,378.5 125.7,381.6 127.0,384.5 128.2,387.3 129.5,390.0 130.7,392.5 132.0,394.8 133.2,396.9 134.5,398.8 135.7,400.6 136.9,402.1 138.2,403.5 139.4,404.6 140.7,405.5 141.9,406.2 143.2,406.6 144.4,406.7 145.7,406.7 146.9,406.7 148.2,406.7 149.4,406.7 150.7,406.7 151.9,406.7 153.2,406.7 154.4,406.7 155.7,406.7 156.9,406.7 158.2,406.7 159.4,406.7 160.7,406.7 161.9,406.7 163.1,406.7 164.4,406.7 165.6,406.7 166.9,406.7 168.1,406.7 169.4,406.7 170.6,406.7 171.9,406.7 173.1,406.7 174.4,406.7 175.6,406.7 176.9,406.7 178.1,406.7 179.4,406.7 180.6,406.7 181.9,406.7 183.1,406.7 184.4,406.7 185.6,406.7 186.9,406.7 188.1,406.7 189.3,406.7 190.6,406.7 191.8,406.7 193.1,406.7 194.3,406.7 195.6,406.7 196.8,406.7 198.1,406.7 199.3,406.7 200.6,406.7 201.8,406.7 203.1,406.7 204.3,406.7 205.6,406.7 206.8,406.7 208.1,406.7" stroke="#ff0000"/>
<path d="M34.6,404.9 35.9,404.2 37.1,403.2 38.4,402.1 39.6,400.7 40.9,399.0 42.1,397.0 43.4,394.6 44.6,391.9 45.9,388.9 47.1,385.5 48.4,381.9 49.6,377.9 50.9,373.7 52.1,369.3 53.4,364.8 54.6,360.1 55.8,355.4 57.1,350.7 58.3,346.1 59.6,341.6 60.8,337.2 62.1,333.1 63.3,329.2 64.6,325.6 65.8,322.3 67.1,319.4 68.3,316.8 69.6,314.6 70.8,312.7 72.1,311.3 73.3,310.2 74.6,309.5 75.8,309.1 77.1,309.0 78.3,309.3 79.6,309.9 80.8,310.7 82.0,311.8 83.3,313.1 84.5,314.7 85.8,316.4 87.0,318.2 88.3,320.3 89.5,322.4 90.8,324.6 92.0,326.9 93.3,329.3 94.5,331.7 95.8,334.1 97.0,336.6 98.3,339.0 99.5,341.5 100.8,343.9 102.0,346.3 103.3,348.7 104.5,351.0 105.8,353.3 107.0,355.6 108.2,357.7 109.5,359.9 110.7,361.9 112.0,364.0 113.2,365.9 114.5,367.8 115.7,369.6 117.0,371.3 118.2,373.0 119.5,374.6 120.7,376.2 122.0,377.7 123.2,379.1 124.5,380.5 125.7,381.8 127.0,383.1 128.2,384.3 129.5,385.4 130.7,386.5 132.0,387.5 133.2,388.5 134.5,389.5 135.7,390.4 136.9,391.2 138.2,392.0 139.4,392.8 140.7,393.5 141.9,394.2 143.2,394.9 144.4,395.5 145.7,396.1 146.9,396.7 148.2,397.2 149.4,397.8 150.7,398.2 151.9,398.7 153.2,399.1 154.4,399.5 155.7,399.9 156.9,400.3 158.2,400.7 159.4,401.0 160.7,401.3 161.9,401.6 163.1,401.9 164.4,402.1 165.6,402.4 166.9,402.6 168.1,402.9 169.4,403.1 170.6,403.3 171.9,403.5 173.1,403.6 174.4,403.8 175.6,404.0 176.9,404.1 178.1,404.3 179.4,404.4 180.6,404.5 181.9,404.7 183.1,404.8 184.4,404.9 185.6,405.0 186.9,405.1 188.1,405.2 189.3,405.3 190.6,405.3 191.8,405.4 193.1,405.5 194.3,405.6 195.6,405.6 196.8,405.7 198.1,405.7 199.3,405.8 200.6,405.8 201.8,405.9 203.1,405.9 204.3,406.0 205.6,406.0 206.8,406.1 208.1,406.1" stroke="#0000ff"/>
<path d="M34.6,396.7 35.9,395.9 37.1,395.0 38.4,394.1 39.6,393.1 40.9,392.0 42.1,390.9 43.4,389.6 44.6,388.4 45.9,387.0 47.1,385.6 48.4,384.1 49.6,382.5 50.9,380.8 52.1,379.0 53.4,377.1 54.6,375.2 55.8,373.2 57.1,371.0 58.3,368.8 59.6,366.5 60.8,364.1 62.1,361.7 63.3,359.1 64.6,356.5 65.8,353.8 67.1,351.0 68.3,348.2 69.6,345.4 70.8,342.5 72.1,339.5 73.3,336.6 74.6,333.7 75.8,330.7 77.1,327.8 78.3,325.0 79.6,322.2 80.8,319.5 82.0,317.0 83.3,314.5 84.5,312.2 85.8,310.1 87.0,308.2 88.3,306.5 89.5,305.1 90.8,304.0 92.0,303.1 93.3,302.6 94.5,302.4 95.8,302.5 97.0,303.1 98.3,304.0 99.5,305.2 100.8,306.9 102.0,308.9 103.3,311.3 104.5,314.1 105.8,317.2 107.0,320.6 108.2,324.3 109.5,328.3 110.7,332.5 112.0,336.9 113.2,341.4 114.5,346.0 115.7,350.6 117.0,355.2 118.2,359.8 119.5,364.3 120.7,368.6 122.0,372.8 123.2,376.8 124.5,380.5 125.7,384.0 127.0,387.2 128.2,390.1 129.5,392.7 130.7,395.0 132.0,397.0 133.2,398.8 134.5,400.4 135.7,401.6 136.9,402.7 138.2,403.6 139.4,404.3 140.7,404.9 141.9,405.4 143.2,405.7 144.4,406.0 145.7,406.2 146.9,406.4 148.2,406.5 149.4,406.6 150.7,406.6 151.9,406.7 153.2,406.7 154.4,406.7 155.7,406.7 156.9,406.7 158.2,406.7 159.4,406.7 160.7,406.7 161.9,406.7 163.1,406.7 164.4,406.7 165.6,406.7 166.9,406.7 168.1,406.7 169.4,406.7 170.6,406.7 171.9,406.7 173.1,406.7 174.4,406.7 175.6,406.7 176.9,406.7 178.1,406.7 179.4,406.7 180.6,406.7 181.9,406.7 183.1,406.7 184.4,406.7 185.6,406.7 186.9,406.7 188.1,406.7 189.3,406.7 190.6,406.7 191.8,406.7 193.1,406.7 194.3,406.7 195.6,406.7 196.8,406.7 198.1,406.7 199.3,406.7 200.6,406.7 201.8,406.7 203.1,406.7 204.3,406.7 205.6,406.7 206.8,406.7 208.1,406.7" stroke="#00ff00"/>
</g>
<g stroke="#000" stroke-width="0.5" fill="none">
<path d="M27.70,406.72 V252.42 M27.70,406.72 h-3.8 M27.70,368.15 h-3.8 M27.70,329.57 h-3.8 M27.70,291.00 h-3.8 M27.70,252.42 h-3.8"/>
<path d="M28.39,412.57 H177.88 M28.39,412.57 v3.1 M65.76,412.57 v3.1 M103.14,412.57 v3.1 M140.51,412.57 v3.1 M177.88,412.57 v3.1"/>
</g>
<text transform="translate(20.60,409.42) scale(1,1.06)" text-anchor="end">0.0</text>
<text transform="translate(20.60,370.85) scale(1,1.06)" text-anchor="end">0.5</text>
<text transform="translate(20.60,332.27) scale(1,1.06)" text-anchor="end">1.0</text>
<text transform="translate(20.60,293.69) scale(1,1.06)" text-anchor="end">1.5</text>
<text transform="translate(20.60,255.12) scale(1,1.06)" text-anchor="end">2.0</text>
<text transform="translate(28.39,425.57) scale(1,1.06)" text-anchor="middle">1.5</text>
<text transform="translate(65.76,425.57) scale(1,1.06)" text-anchor="middle">2.0</text>
<text transform="translate(103.14,425.57) scale(1,1.06)" text-anchor="middle">2.5</text>
<text transform="translate(140.51,425.57) scale(1,1.06)" text-anchor="middle">3.0</text>
<text transform="translate(177.88,425.57) scale(1,1.06)" text-anchor="middle">3.5</text>
<text transform="translate(121.35,438.97) scale(1,1.06)" text-anchor="middle">Wind data</text>
<text transform="translate(5.90,329.57) rotate(-90) scale(1,1.06)" text-anchor="middle">Density</text>
<rect x="136.30" y="246.32" width="78.70" height="35.00" fill="#fff" stroke="#000" stroke-width="0.5"/>
<path d="M141.40,253.42 h10.5" stroke="#000" stroke-width="1.2" fill="none"/>
<text transform="translate(211.70,255.72) scale(1,1.06)" text-anchor="end">Observed</text>
<path d="M141.40,260.29 h10.5" stroke="#ff0000" stroke-width="1.2" fill="none"/>
<text transform="translate(211.70,262.59) scale(1,1.06)" text-anchor="end">GEV fit</text>
<path d="M141.40,267.16 h10.5" stroke="#0000ff" stroke-width="1.2" fill="none"/>
<text transform="translate(211.70,269.46) scale(1,1.06)" text-anchor="end">Gumbel fit</text>
<path d="M141.40,274.03 h10.5" stroke="#00ff00" stroke-width="1.2" fill="none"/>
<text transform="translate(211.70,276.33) scale(1,1.06)" text-anchor="end">Weibull fit</text>
</g>
<g id="panel-may">
<text transform="translate(356.15,235.62) scale(1,1.06)" text-anchor="middle" font-size="6.9" font-weight="bold">May</text>
<g clip-path="url(#cp4)" stroke="#000" stroke-width="0.45" fill="#d3d3d3">
<rect x="258.18" y="400.40" width="14.16" height="6.32"/>
<rect x="272.34" y="362.45" width="14.16" height="44.27"/>
<rect x="286.50" y="318.19" width="14.16" height="88.53"/>
<rect x="300.66" y="349.81" width="14.16" height="56.91"/>
<rect x="314.82" y="286.57" width="14.16" height="120.15"/>
<rect x="328.98" y="362.45" width="14.16" height="44.27"/>
<rect x="343.14" y="387.75" width="14.16" height="18.97"/>
<rect x="357.30" y="400.40" width="14.16" height="6.32"/>
</g>
<g clip-path="url(#cp4)" fill="none" stroke-width="1.1" stroke-linejoin="round">
<path d="M254.5,406.3 255.2,405.9 255.8,405.3 256.5,404.6 257.2,403.9 257.9,403.1 258.5,402.3 259.2,401.5 259.9,400.6 260.5,399.6 261.2,398.7 261.9,397.7 262.6,396.7 263.2,395.6 263.9,394.5 264.6,393.3 265.2,392.0 265.9,390.7 266.6,389.4 267.3,388.1 267.9,386.7 268.6,385.4 269.3,384.0 269.9,382.7 270.6,381.3 271.3,380.0 272.0,378.6 272.6,377.3 273.3,375.9 274.0,374.6 274.6,373.2 275.3,371.9 276.0,370.6 276.7,369.3 277.3,368.0 278.0,366.8 278.7,365.5 279.3,364.1 280.0,362.7 280.7,361.2 281.3,359.6 282.0,358.0 282.7,356.3 283.4,354.7 284.0,353.0 284.7,351.4 285.4,349.9 286.0,348.4 286.7,347.0 287.4,345.7 288.1,344.5 288.7,343.2 289.4,342.0 290.1,340.7 290.7,339.5 291.4,338.3 292.1,337.1 292.8,336.1 293.4,335.3 294.1,334.6 294.8,333.9 295.4,333.4 296.1,332.9 296.8,332.5 297.5,332.1 298.1,331.7 298.8,331.4 299.5,331.1 300.1,330.8 300.8,330.6 301.5,330.3 302.2,330.1 302.8,329.9 303.5,329.7 304.2,329.5 304.8,329.2 305.5,328.8 306.2,328.4 306.9,327.8 307.5,327.1 308.2,326.3 308.9,325.4 309.5,324.5 310.2,323.5 310.9,322.5 311.6,321.5 312.2,320.3 312.9,319.2 313.6,318.0 314.2,317.0 314.9,316.0 315.6,315.2 316.3,314.5 316.9,313.9 317.6,313.4 318.3,313.1 318.9,312.8 319.6,312.7 320.3,312.6 321.0,312.8 321.6,313.0 322.3,313.4 323.0,313.9 323.6,314.5 324.3,315.2 325.0,316.0 325.6,317.0 326.3,318.2 327.0,319.5 327.7,320.9 328.3,322.3 329.0,323.8 329.7,325.4 330.3,327.1 331.0,328.8 331.7,330.6 332.4,332.5 333.0,334.3 333.7,336.3 334.4,338.3 335.0,340.3 335.7,342.5 336.4,344.7 337.1,347.0 337.7,349.4 338.4,351.9 339.1,354.5 339.7,357.0 340.4,359.5 341.1,361.9 341.8,364.1 342.4,366.2 343.1,368.2 343.8,370.1 344.4,371.8 345.1,373.5 345.8,375.1 346.5,376.6 347.1,378.1 347.8,379.5 348.5,380.9 349.1,382.2 349.8,383.5 350.5,384.8 351.2,386.0 351.8,387.2 352.5,388.4 353.2,389.5 353.8,390.5 354.5,391.5 355.2,392.5 355.9,393.4 356.5,394.2 357.2,395.0 357.9,395.8 358.5,396.6 359.2,397.3 359.9,398.0 360.6,398.6 361.2,399.1 361.9,399.5 362.6,399.8 363.2,400.1 363.9,400.4 364.6,400.6 365.3,400.8 365.9,401.0 366.6,401.1 367.3,401.3 367.9,401.4 368.6,401.5 369.3,401.6 370.0,401.7 370.6,401.8 371.3,401.9 372.0,402.0 372.6,402.1 373.3,402.1 374.0,402.2 374.6,402.3 375.3,402.5 376.0,402.6 376.7,402.8 377.3,403.0 378.0,403.2 378.7,403.5 379.3,403.7 380.0,404.0 380.7,404.2 381.4,404.4 382.0,404.6 382.7,404.8 383.4,405.0 384.0,405.1 384.7,405.3 385.4,405.4 386.1,405.5 386.7,405.6 387.4,405.7 388.1,405.8" stroke="#000"/>
<path d="M269.4,392.9 270.7,390.9 271.9,388.6 273.2,386.2 274.4,383.6 275.7,380.8 276.9,377.9 278.2,374.7 279.4,371.4 280.7,368.0 281.9,364.4 283.2,360.7 284.4,357.0 285.7,353.2 286.9,349.4 288.2,345.6 289.4,341.8 290.6,338.0 291.9,334.4 293.1,330.9 294.4,327.5 295.6,324.4 296.9,321.4 298.1,318.6 299.4,316.1 300.6,313.9 301.9,312.0 303.1,310.3 304.4,309.0 305.6,307.9 306.9,307.2 308.1,306.8 309.4,306.8 310.6,307.0 311.9,307.6 313.1,308.4 314.4,309.5 315.6,310.9 316.8,312.6 318.1,314.4 319.3,316.5 320.6,318.8 321.8,321.3 323.1,323.9 324.3,326.6 325.6,329.5 326.8,332.4 328.1,335.5 329.3,338.6 330.6,341.7 331.8,344.8 333.1,348.0 334.3,351.1 335.6,354.2 336.8,357.2 338.1,360.2 339.3,363.2 340.6,366.1 341.8,368.8 343.0,371.5 344.3,374.1 345.5,376.6 346.8,379.0 348.0,381.3 349.3,383.5 350.5,385.6 351.8,387.5 353.0,389.3 354.3,391.1 355.5,392.7 356.8,394.2 358.0,395.6 359.3,396.9 360.5,398.0 361.8,399.1 363.0,400.1 364.3,401.0 365.5,401.8 366.8,402.6 368.0,403.2 369.3,403.8 370.5,404.3 371.7,404.8 373.0,405.2 374.2,405.5 375.5,405.8 376.7,406.0 378.0,406.2 379.2,406.3 380.5,406.5 381.7,406.5 383.0,406.6 384.2,406.7 385.5,406.7 386.7,406.7 388.0,406.7 389.2,406.7 390.5,406.7 391.7,406.7 393.0,406.7 394.2,406.7 395.5,406.7 396.7,406.7 397.9,406.7 399.2,406.7 400.4,406.7 401.7,406.7 402.9,406.7 404.2,406.7 405.4,406.7 406.7,406.7 407.9,406.7 409.2,406.7 410.4,406.7 411.7,406.7 412.9,406.7 414.2,406.7 415.4,406.7 416.7,406.7 417.9,406.7 419.2,406.7 420.4,406.7 421.7,406.7 422.9,406.7 424.1,406.7 425.4,406.7 426.6,406.7 427.9,406.7 429.1,406.7 430.4,406.7 431.6,406.7 432.9,406.7 434.1,406.7 435.4,406.7 436.6,406.7 437.9,406.7 439.1,406.7 440.4,406.7 441.6,406.7 442.9,406.7" stroke="#ff0000"/>
<path d="M269.4,396.8 270.7,394.2 271.9,391.1 273.2,387.6 274.4,383.7 275.7,379.5 276.9,374.9 278.2,370.0 279.4,364.9 280.7,359.6 281.9,354.3 283.2,349.0 284.4,343.7 285.7,338.6 286.9,333.7 288.2,329.0 289.4,324.7 290.6,320.8 291.9,317.3 293.1,314.2 294.4,311.6 295.6,309.5 296.9,307.8 298.1,306.6 299.4,305.8 300.6,305.5 301.9,305.5 303.1,306.0 304.4,306.8 305.6,307.9 306.9,309.3 308.1,311.0 309.4,312.9 310.6,315.0 311.9,317.3 313.1,319.8 314.4,322.3 315.6,324.9 316.8,327.6 318.1,330.4 319.3,333.2 320.6,336.0 321.8,338.7 323.1,341.5 324.3,344.2 325.6,346.9 326.8,349.6 328.1,352.2 329.3,354.7 330.6,357.1 331.8,359.5 333.1,361.8 334.3,364.0 335.6,366.2 336.8,368.2 338.1,370.2 339.3,372.1 340.6,373.9 341.8,375.7 343.0,377.3 344.3,378.9 345.5,380.4 346.8,381.9 348.0,383.3 349.3,384.6 350.5,385.8 351.8,387.0 353.0,388.1 354.3,389.1 355.5,390.1 356.8,391.1 358.0,392.0 359.3,392.8 360.5,393.6 361.8,394.4 363.0,395.1 364.3,395.8 365.5,396.4 366.8,397.0 368.0,397.6 369.3,398.2 370.5,398.7 371.7,399.1 373.0,399.6 374.2,400.0 375.5,400.4 376.7,400.8 378.0,401.1 379.2,401.5 380.5,401.8 381.7,402.1 383.0,402.4 384.2,402.6 385.5,402.9 386.7,403.1 388.0,403.3 389.2,403.5 390.5,403.7 391.7,403.9 393.0,404.1 394.2,404.2 395.5,404.4 396.7,404.5 397.9,404.7 399.2,404.8 400.4,404.9 401.7,405.0 402.9,405.1 404.2,405.2 405.4,405.3 406.7,405.4 407.9,405.5 409.2,405.5 410.4,405.6 411.7,405.7 412.9,405.7 414.2,405.8 415.4,405.9 416.7,405.9 417.9,406.0 419.2,406.0 420.4,406.1 421.7,406.1 422.9,406.1 424.1,406.2 425.4,406.2 426.6,406.2 427.9,406.3 429.1,406.3 430.4,406.3 431.6,406.3 432.9,406.4 434.1,406.4 435.4,406.4 436.6,406.4 437.9,406.4 439.1,406.5 440.4,406.5 441.6,406.5 442.9,406.5" stroke="#0000ff"/>
<path d="M269.4,387.4 270.7,386.0 271.9,384.6 273.2,383.0 274.4,381.5 275.7,379.8 276.9,378.0 278.2,376.2 279.4,374.3 280.7,372.3 281.9,370.3 283.2,368.1 284.4,365.9 285.7,363.6 286.9,361.3 288.2,358.9 289.4,356.4 290.6,353.9 291.9,351.3 293.1,348.7 294.4,346.1 295.6,343.5 296.9,340.8 298.1,338.2 299.4,335.6 300.6,333.0 301.9,330.4 303.1,328.0 304.4,325.6 305.6,323.3 306.9,321.2 308.1,319.2 309.4,317.3 310.6,315.6 311.9,314.2 313.1,312.9 314.4,311.9 315.6,311.2 316.8,310.8 318.1,310.6 319.3,310.7 320.6,311.2 321.8,312.0 323.1,313.1 324.3,314.5 325.6,316.3 326.8,318.4 328.1,320.8 329.3,323.5 330.6,326.4 331.8,329.7 333.1,333.1 334.3,336.8 335.6,340.6 336.8,344.6 338.1,348.6 339.3,352.7 340.6,356.8 341.8,360.9 343.0,365.0 344.3,368.9 345.5,372.7 346.8,376.4 348.0,379.9 349.3,383.1 350.5,386.2 351.8,389.0 353.0,391.5 354.3,393.8 355.5,395.9 356.8,397.7 358.0,399.3 359.3,400.7 360.5,401.9 361.8,402.8 363.0,403.7 364.3,404.3 365.5,404.9 366.8,405.3 368.0,405.7 369.3,406.0 370.5,406.2 371.7,406.3 373.0,406.4 374.2,406.5 375.5,406.6 376.7,406.6 378.0,406.7 379.2,406.7 380.5,406.7 381.7,406.7 383.0,406.7 384.2,406.7 385.5,406.7 386.7,406.7 388.0,406.7 389.2,406.7 390.5,406.7 391.7,406.7 393.0,406.7 394.2,406.7 395.5,406.7 396.7,406.7 397.9,406.7 399.2,406.7 400.4,406.7 401.7,406.7 402.9,406.7 404.2,406.7 405.4,406.7 406.7,406.7 407.9,406.7 409.2,406.7 410.4,406.7 411.7,406.7 412.9,406.7 414.2,406.7 415.4,406.7 416.7,406.7 417.9,406.7 419.2,406.7 420.4,406.7 421.7,406.7 422.9,406.7 424.1,406.7 425.4,406.7 426.6,406.7 427.9,406.7 429.1,406.7 430.4,406.7 431.6,406.7 432.9,406.7 434.1,406.7 435.4,406.7 436.6,406.7 437.9,406.7 439.1,406.7 440.4,406.7 441.6,406.7 442.9,406.7" stroke="#00ff00"/>
</g>
<g stroke="#000" stroke-width="0.5" fill="none">
<path d="M262.50,406.72 V252.42 M262.50,406.72 h-3.8 M262.50,368.15 h-3.8 M262.50,329.57 h-3.8 M262.50,291.00 h-3.8 M262.50,252.42 h-3.8"/>
<path d="M286.50,412.57 H428.10 M286.50,412.57 v3.1 M321.90,412.57 v3.1 M357.30,412.57 v3.1 M392.70,412.57 v3.1 M428.10,412.57 v3.1"/>
</g>
<text transform="translate(255.40,409.42) scale(1,1.06)" text-anchor="end">0.0</text>
<text transform="translate(255.40,370.85) scale(1,1.06)" text-anchor="end">0.5</text>
<text transform="translate(255.40,332.27) scale(1,1.06)" text-anchor="end">1.0</text>
<text transform="translate(255.40,293.69) scale(1,1.06)" text-anchor="end">1.5</text>
<text transform="translate(255.40,255.12) scale(1,1.06)" text-anchor="end">2.0</text>
<text transform="translate(286.50,425.57) scale(1,1.06)" text-anchor="middle">2.0</text>
<text transform="translate(321.90,425.57) scale(1,1.06)" text-anchor="middle">2.5</text>
<text transform="translate(357.30,425.57) scale(1,1.06)" text-anchor="middle">3.0</text>
<text transform="translate(392.70,425.57) scale(1,1.06)" text-anchor="middle">3.5</text>
<text transform="translate(428.10,425.57) scale(1,1.06)" text-anchor="middle">4.0</text>
<text transform="translate(356.15,438.97) scale(1,1.06)" text-anchor="middle">Wind data</text>
<text transform="translate(240.70,329.57) rotate(-90) scale(1,1.06)" text-anchor="middle">Density</text>
<rect x="371.10" y="246.32" width="78.70" height="35.00" fill="#fff" stroke="#000" stroke-width="0.5"/>
<path d="M376.20,253.42 h10.5" stroke="#000" stroke-width="1.2" fill="none"/>
<text transform="translate(446.50,255.72) scale(1,1.06)" text-anchor="end">Observed</text>
<path d="M376.20,260.29 h10.5" stroke="#ff0000" stroke-width="1.2" fill="none"/>
<text transform="translate(446.50,262.59) scale(1,1.06)" text-anchor="end">GEV fit</text>
<path d="M376.20,267.16 h10.5" stroke="#0000ff" stroke-width="1.2" fill="none"/>
<text transform="translate(446.50,269.46) scale(1,1.06)" text-anchor="end">Gumbel fit</text>
<path d="M376.20,274.03 h10.5" stroke="#00ff00" stroke-width="1.2" fill="none"/>
<text transform="translate(446.50,276.33) scale(1,1.06)" text-anchor="end">Weibull fit</text>
</g>
<g id="panel-june">
<text transform="translate(590.95,235.62) scale(1,1.06)" text-anchor="middle" font-size="6.9" font-weight="bold">June</text>
<g clip-path="url(#cp5)" stroke="#000" stroke-width="0.45" fill="#d3d3d3">
<rect x="498.08" y="381.42" width="17.21" height="25.30"/>
<rect x="515.29" y="356.13" width="17.21" height="50.59"/>
<rect x="532.50" y="280.24" width="17.21" height="126.48"/>
<rect x="549.71" y="330.83" width="17.21" height="75.89"/>
<rect x="566.92" y="324.51" width="17.21" height="82.21"/>
<rect x="584.13" y="381.42" width="17.21" height="25.30"/>
</g>
<g clip-path="url(#cp5)" fill="none" stroke-width="1.1" stroke-linejoin="round">
<path d="M489.3,406.3 489.9,405.9 490.6,405.4 491.2,404.9 491.8,404.3 492.4,403.6 493.1,403.0 493.7,402.3 494.3,401.6 495.0,401.0 495.6,400.3 496.2,399.5 496.8,398.8 497.5,398.1 498.1,397.3 498.7,396.6 499.4,395.8 500.0,395.0 500.6,394.2 501.2,393.4 501.9,392.6 502.5,391.7 503.1,390.9 503.8,390.0 504.4,389.1 505.0,388.2 505.6,387.3 506.3,386.4 506.9,385.4 507.5,384.4 508.2,383.5 508.8,382.5 509.4,381.5 510.0,380.5 510.7,379.5 511.3,378.5 511.9,377.5 512.5,376.5 513.2,375.5 513.8,374.5 514.4,373.5 515.1,372.5 515.7,371.5 516.3,370.5 516.9,369.5 517.6,368.5 518.2,367.5 518.8,366.5 519.5,365.4 520.1,364.4 520.7,363.2 521.3,361.9 522.0,360.3 522.6,358.5 523.2,356.4 523.9,354.1 524.5,351.9 525.1,349.8 525.7,347.9 526.4,346.2 527.0,344.7 527.6,343.4 528.3,342.1 528.9,340.8 529.5,339.5 530.1,338.1 530.8,336.6 531.4,335.0 532.0,333.1 532.7,330.9 533.3,328.4 533.9,325.7 534.5,322.8 535.2,319.9 535.8,316.9 536.4,314.0 537.1,311.2 537.7,308.6 538.3,306.1 538.9,303.7 539.6,301.6 540.2,299.6 540.8,297.9 541.5,296.3 542.1,295.0 542.7,293.8 543.3,292.8 544.0,292.0 544.6,291.4 545.2,290.9 545.9,290.8 546.5,290.8 547.1,291.1 547.7,291.4 548.4,292.0 549.0,292.6 549.6,293.4 550.3,294.3 550.9,295.4 551.5,296.6 552.1,297.8 552.8,299.1 553.4,300.5 554.0,301.7 554.7,303.0 555.3,304.3 555.9,305.5 556.5,306.6 557.2,307.8 557.8,308.8 558.4,309.7 559.0,310.5 559.7,311.1 560.3,311.6 560.9,312.1 561.6,312.4 562.2,312.8 562.8,313.1 563.4,313.4 564.1,313.8 564.7,314.1 565.3,314.5 566.0,314.8 566.6,315.2 567.2,315.6 567.8,316.0 568.5,316.5 569.1,317.0 569.7,317.5 570.4,318.2 571.0,319.0 571.6,319.9 572.2,320.9 572.9,322.1 573.5,323.4 574.1,324.9 574.8,326.5 575.4,328.5 576.0,330.6 576.6,333.1 577.3,335.7 577.9,338.4 578.5,341.2 579.2,344.1 579.8,346.9 580.4,349.6 581.0,352.2 581.7,354.6 582.3,356.9 582.9,359.1 583.6,361.2 584.2,363.2 584.8,365.1 585.4,367.0 586.1,368.9 586.7,370.6 587.3,372.4 588.0,374.1 588.6,375.8 589.2,377.4 589.8,379.1 590.5,380.7 591.1,382.2 591.7,383.7 592.4,385.2 593.0,386.6 593.6,388.0 594.2,389.3 594.9,390.5 595.5,391.7 596.1,392.8 596.8,393.9 597.4,395.0 598.0,396.0 598.6,397.0 599.3,397.9 599.9,398.8 600.5,399.5 601.2,400.3 601.8,400.9 602.4,401.5 603.0,402.1 603.7,402.6 604.3,403.1 604.9,403.6 605.5,404.0 606.2,404.4 606.8,404.7 607.4,404.9 608.1,405.2 608.7,405.3 609.3,405.5 609.9,405.6 610.6,405.7 611.2,405.8 611.8,405.9 612.5,406.0 613.1,406.1 613.7,406.1 614.3,406.1" stroke="#000"/>
<path d="M504.2,395.5 505.5,394.1 506.7,392.5 508.0,390.8 509.2,389.0 510.5,387.0 511.7,384.8 513.0,382.5 514.2,380.0 515.5,377.4 516.7,374.6 518.0,371.6 519.2,368.5 520.5,365.3 521.7,361.9 523.0,358.4 524.2,354.7 525.4,351.0 526.7,347.2 527.9,343.3 529.2,339.4 530.4,335.4 531.7,331.4 532.9,327.4 534.2,323.5 535.4,319.6 536.7,315.8 537.9,312.2 539.2,308.6 540.4,305.2 541.7,302.1 542.9,299.1 544.2,296.3 545.4,293.8 546.7,291.6 547.9,289.7 549.2,288.1 550.4,286.8 551.6,285.8 552.9,285.2 554.1,284.9 555.4,285.0 556.6,285.5 557.9,286.3 559.1,287.4 560.4,289.0 561.6,290.8 562.9,293.0 564.1,295.5 565.4,298.3 566.6,301.3 567.9,304.7 569.1,308.2 570.4,312.0 571.6,316.0 572.9,320.2 574.1,324.5 575.4,328.9 576.6,333.4 577.8,337.9 579.1,342.5 580.3,347.1 581.6,351.7 582.8,356.3 584.1,360.8 585.3,365.2 586.6,369.5 587.8,373.6 589.1,377.6 590.3,381.5 591.6,385.1 592.8,388.5 594.1,391.7 595.3,394.7 596.6,397.4 597.8,399.8 599.1,401.9 600.3,403.6 601.6,405.1 602.8,406.1 604.1,406.7 605.3,406.7 606.5,406.7 607.8,406.7 609.0,406.7 610.3,406.7 611.5,406.7 612.8,406.7 614.0,406.7 615.3,406.7 616.5,406.7 617.8,406.7 619.0,406.7 620.3,406.7 621.5,406.7 622.8,406.7 624.0,406.7 625.3,406.7 626.5,406.7 627.8,406.7 629.0,406.7 630.3,406.7 631.5,406.7 632.7,406.7 634.0,406.7 635.2,406.7 636.5,406.7 637.7,406.7 639.0,406.7 640.2,406.7 641.5,406.7 642.7,406.7 644.0,406.7 645.2,406.7 646.5,406.7 647.7,406.7 649.0,406.7 650.2,406.7 651.5,406.7 652.7,406.7 654.0,406.7 655.2,406.7 656.5,406.7 657.7,406.7 658.9,406.7 660.2,406.7 661.4,406.7 662.7,406.7 663.9,406.7 665.2,406.7 666.4,406.7 667.7,406.7 668.9,406.7 670.2,406.7 671.4,406.7 672.7,406.7 673.9,406.7 675.2,406.7 676.4,406.7 677.7,406.7" stroke="#ff0000"/>
<path d="M504.2,402.0 505.5,400.3 506.7,398.4 508.0,395.9 509.2,393.1 510.5,389.8 511.7,386.0 513.0,381.8 514.2,377.2 515.5,372.2 516.7,366.8 518.0,361.2 519.2,355.3 520.5,349.3 521.7,343.3 523.0,337.2 524.2,331.3 525.4,325.6 526.7,320.1 527.9,314.9 529.2,310.1 530.4,305.7 531.7,301.7 532.9,298.3 534.2,295.3 535.4,292.9 536.7,290.9 537.9,289.5 539.2,288.5 540.4,288.0 541.7,288.0 542.9,288.4 544.2,289.2 545.4,290.3 546.7,291.8 547.9,293.6 549.2,295.7 550.4,298.0 551.6,300.5 552.9,303.1 554.1,305.9 555.4,308.8 556.6,311.9 557.9,314.9 559.1,318.1 560.4,321.2 561.6,324.4 562.9,327.5 564.1,330.6 565.4,333.7 566.6,336.8 567.9,339.8 569.1,342.7 570.4,345.5 571.6,348.3 572.9,351.0 574.1,353.6 575.4,356.2 576.6,358.6 577.8,361.0 579.1,363.2 580.3,365.4 581.6,367.5 582.8,369.5 584.1,371.4 585.3,373.3 586.6,375.0 587.8,376.7 589.1,378.3 590.3,379.8 591.6,381.2 592.8,382.6 594.1,383.9 595.3,385.2 596.6,386.4 597.8,387.5 599.1,388.5 600.3,389.6 601.6,390.5 602.8,391.4 604.1,392.3 605.3,393.1 606.5,393.9 607.8,394.6 609.0,395.3 610.3,395.9 611.5,396.5 612.8,397.1 614.0,397.7 615.3,398.2 616.5,398.7 617.8,399.1 619.0,399.6 620.3,400.0 621.5,400.4 622.8,400.7 624.0,401.1 625.3,401.4 626.5,401.7 627.8,402.0 629.0,402.3 630.3,402.5 631.5,402.8 632.7,403.0 634.0,403.2 635.2,403.4 636.5,403.6 637.7,403.8 639.0,404.0 640.2,404.1 641.5,404.3 642.7,404.4 644.0,404.6 645.2,404.7 646.5,404.8 647.7,404.9 649.0,405.0 650.2,405.1 651.5,405.2 652.7,405.3 654.0,405.4 655.2,405.5 656.5,405.5 657.7,405.6 658.9,405.7 660.2,405.7 661.4,405.8 662.7,405.8 663.9,405.9 665.2,405.9 666.4,406.0 667.7,406.0 668.9,406.1 670.2,406.1 671.4,406.1 672.7,406.2 673.9,406.2 675.2,406.2 676.4,406.3 677.7,406.3" stroke="#0000ff"/>
<path d="M504.2,391.4 505.5,390.2 506.7,388.9 508.0,387.5 509.2,386.1 510.5,384.5 511.7,382.9 513.0,381.1 514.2,379.3 515.5,377.3 516.7,375.3 518.0,373.1 519.2,370.8 520.5,368.4 521.7,365.9 523.0,363.3 524.2,360.6 525.4,357.7 526.7,354.8 527.9,351.7 529.2,348.6 530.4,345.3 531.7,341.9 532.9,338.5 534.2,335.0 535.4,331.5 536.7,327.9 537.9,324.2 539.2,320.6 540.4,317.0 541.7,313.4 542.9,309.8 544.2,306.3 545.4,302.9 546.7,299.7 547.9,296.6 549.2,293.7 550.4,291.1 551.6,288.7 552.9,286.6 554.1,284.8 555.4,283.4 556.6,282.4 557.9,281.8 559.1,281.6 560.4,282.0 561.6,282.8 562.9,284.1 564.1,285.9 565.4,288.2 566.6,291.0 567.9,294.3 569.1,298.1 570.4,302.3 571.6,306.9 572.9,311.9 574.1,317.2 575.4,322.7 576.6,328.4 577.8,334.3 579.1,340.2 580.3,346.1 581.6,351.9 582.8,357.6 584.1,363.1 585.3,368.3 586.6,373.2 587.8,377.8 589.1,382.0 590.3,385.8 591.6,389.3 592.8,392.3 594.1,395.0 595.3,397.3 596.6,399.2 597.8,400.9 599.1,402.2 600.3,403.3 601.6,404.2 602.8,404.8 604.1,405.4 605.3,405.8 606.5,406.1 607.8,406.3 609.0,406.4 610.3,406.5 611.5,406.6 612.8,406.6 614.0,406.7 615.3,406.7 616.5,406.7 617.8,406.7 619.0,406.7 620.3,406.7 621.5,406.7 622.8,406.7 624.0,406.7 625.3,406.7 626.5,406.7 627.8,406.7 629.0,406.7 630.3,406.7 631.5,406.7 632.7,406.7 634.0,406.7 635.2,406.7 636.5,406.7 637.7,406.7 639.0,406.7 640.2,406.7 641.5,406.7 642.7,406.7 644.0,406.7 645.2,406.7 646.5,406.7 647.7,406.7 649.0,406.7 650.2,406.7 651.5,406.7 652.7,406.7 654.0,406.7 655.2,406.7 656.5,406.7 657.7,406.7 658.9,406.7 660.2,406.7 661.4,406.7 662.7,406.7 663.9,406.7 665.2,406.7 666.4,406.7 667.7,406.7 668.9,406.7 670.2,406.7 671.4,406.7 672.7,406.7 673.9,406.7 675.2,406.7 676.4,406.7 677.7,406.7" stroke="#00ff00"/>
</g>
<g stroke="#000" stroke-width="0.5" fill="none">
<path d="M497.30,406.72 V252.42 M497.30,406.72 h-3.8 M497.30,368.15 h-3.8 M497.30,329.57 h-3.8 M497.30,291.00 h-3.8 M497.30,252.42 h-3.8"/>
<path d="M532.50,412.57 H661.58 M532.50,412.57 v3.1 M575.52,412.57 v3.1 M618.55,412.57 v3.1 M661.58,412.57 v3.1"/>
</g>
<text transform="translate(490.20,409.42) scale(1,1.06)" text-anchor="end">0.0</text>
<text transform="translate(490.20,370.85) scale(1,1.06)" text-anchor="end">0.5</text>
<text transform="translate(490.20,332.27) scale(1,1.06)" text-anchor="end">1.0</text>
<text transform="translate(490.20,293.69) scale(1,1.06)" text-anchor="end">1.5</text>
<text transform="translate(490.20,255.12) scale(1,1.06)" text-anchor="end">2.0</text>
<text transform="translate(532.50,425.57) scale(1,1.06)" text-anchor="middle">2.0</text>
<text transform="translate(575.52,425.57) scale(1,1.06)" text-anchor="middle">2.5</text>
<text transform="translate(618.55,425.57) scale(1,1.06)" text-anchor="middle">3.0</text>
<text transform="translate(661.58,425.57) scale(1,1.06)" text-anchor="middle">3.5</text>
<text transform="translate(590.95,438.97) scale(1,1.06)" text-anchor="middle">Wind data</text>
<text transform="translate(475.50,329.57) rotate(-90) scale(1,1.06)" text-anchor="middle">Density</text>
<rect x="605.90" y="246.32" width="78.70" height="35.00" fill="#fff" stroke="#000" stroke-width="0.5"/>
<path d="M611.00,253.42 h10.5" stroke="#000" stroke-width="1.2" fill="none"/>
<text transform="translate(681.30,255.72) scale(1,1.06)" text-anchor="end">Observed</text>
<path d="M611.00,260.29 h10.5" stroke="#ff0000" stroke-width="1.2" fill="none"/>
<text transform="translate(681.30,262.59) scale(1,1.06)" text-anchor="end">GEV fit</text>
<path d="M611.00,267.16 h10.5" stroke="#0000ff" stroke-width="1.2" fill="none"/>
<text transform="translate(681.30,269.46) scale(1,1.06)" text-anchor="end">Gumbel fit</text>
<path d="M611.00,274.03 h10.5" stroke="#00ff00" stroke-width="1.2" fill="none"/>
<text transform="translate(681.30,276.33) scale(1,1.06)" text-anchor="end">Weibull fit</text>
</g>
<g id="panel-july">
<text transform="translate(121.35,465.49) scale(1,1.06)" text-anchor="middle" font-size="6.9" font-weight="bold">July</text>
<g clip-path="url(#cp6)" stroke="#000" stroke-width="0.45" fill="#d3d3d3">
<rect x="34.67" y="586.00" width="16.20" height="50.59"/>
<rect x="50.87" y="586.00" width="16.20" height="50.59"/>
<rect x="67.07" y="503.79" width="16.20" height="132.80"/>
<rect x="83.27" y="516.44" width="16.20" height="120.15"/>
<rect x="99.47" y="617.62" width="16.20" height="18.97"/>
<rect x="115.67" y="623.94" width="16.20" height="12.65"/>
</g>
<g clip-path="url(#cp6)" fill="none" stroke-width="1.1" stroke-linejoin="round">
<path d="M19.7,636.0 20.3,635.5 20.9,634.8 21.6,634.0 22.2,633.0 22.8,632.0 23.4,630.8 24.0,629.6 24.7,628.4 25.3,627.1 25.9,625.7 26.5,624.3 27.1,622.8 27.8,621.3 28.4,619.6 29.0,617.9 29.6,616.0 30.2,614.1 30.8,612.2 31.5,610.3 32.1,608.3 32.7,606.4 33.3,604.6 33.9,602.9 34.6,601.3 35.2,599.8 35.8,598.5 36.4,597.3 37.0,596.3 37.7,595.4 38.3,594.6 38.9,594.0 39.5,593.4 40.1,593.0 40.8,592.7 41.4,592.5 42.0,592.3 42.6,592.3 43.2,592.3 43.9,592.4 44.5,592.4 45.1,592.5 45.7,592.6 46.3,592.7 46.9,592.9 47.6,593.0 48.2,593.1 48.8,593.2 49.4,593.2 50.0,593.2 50.7,593.1 51.3,593.0 51.9,592.8 52.5,592.6 53.1,592.2 53.8,591.8 54.4,591.2 55.0,590.4 55.6,589.4 56.2,588.2 56.9,586.7 57.5,585.0 58.1,583.1 58.7,581.0 59.3,578.8 60.0,576.3 60.6,573.7 61.2,570.9 61.8,567.8 62.4,564.5 63.0,561.1 63.7,557.5 64.3,553.9 64.9,550.3 65.5,546.6 66.1,543.0 66.8,539.4 67.4,536.0 68.0,532.7 68.6,529.7 69.2,527.0 69.9,524.6 70.5,522.4 71.1,520.4 71.7,518.7 72.3,517.1 73.0,515.8 73.6,514.7 74.2,513.7 74.8,512.8 75.4,512.1 76.1,511.4 76.7,510.9 77.3,510.5 77.9,510.3 78.5,510.2 79.1,510.3 79.8,510.5 80.4,510.8 81.0,511.1 81.6,511.6 82.2,512.1 82.9,512.6 83.5,513.2 84.1,513.9 84.7,514.6 85.3,515.4 86.0,516.3 86.6,517.3 87.2,518.4 87.8,519.6 88.4,520.9 89.1,522.4 89.7,524.0 90.3,525.8 90.9,527.7 91.5,529.8 92.2,532.1 92.8,534.6 93.4,537.2 94.0,540.0 94.6,543.0 95.2,546.2 95.9,549.6 96.5,553.3 97.1,557.0 97.7,560.8 98.3,564.4 99.0,567.8 99.6,571.0 100.2,573.9 100.8,576.6 101.4,579.1 102.1,581.7 102.7,584.3 103.3,586.9 103.9,589.6 104.5,592.2 105.2,594.8 105.8,597.3 106.4,599.5 107.0,601.7 107.6,603.6 108.3,605.5 108.9,607.2 109.5,608.8 110.1,610.2 110.7,611.6 111.3,612.9 112.0,614.1 112.6,615.2 113.2,616.2 113.8,617.2 114.4,618.1 115.1,618.9 115.7,619.7 116.3,620.4 116.9,621.0 117.5,621.6 118.2,622.1 118.8,622.7 119.4,623.1 120.0,623.6 120.6,624.1 121.3,624.6 121.9,625.0 122.5,625.5 123.1,626.0 123.7,626.4 124.4,626.9 125.0,627.4 125.6,627.8 126.2,628.3 126.8,628.8 127.4,629.2 128.1,629.7 128.7,630.1 129.3,630.6 129.9,631.1 130.5,631.5 131.2,631.9 131.8,632.4 132.4,632.8 133.0,633.2 133.6,633.5 134.3,633.9 134.9,634.2 135.5,634.5 136.1,634.7 136.7,635.0 137.4,635.2 138.0,635.4 138.6,635.6 139.2,635.8 139.8,635.9 140.5,636.0 141.1,636.2 141.7,636.3 142.3,636.4 142.9,636.4" stroke="#000"/>
<path d="M34.6,619.3 35.9,617.1 37.1,614.7 38.4,612.1 39.6,609.4 40.9,606.4 42.1,603.3 43.4,600.0 44.6,596.6 45.9,593.0 47.1,589.2 48.4,585.4 49.6,581.4 50.9,577.4 52.1,573.3 53.4,569.2 54.6,565.1 55.8,561.0 57.1,557.0 58.3,553.0 59.6,549.2 60.8,545.5 62.1,542.0 63.3,538.7 64.6,535.6 65.8,532.7 67.1,530.2 68.3,527.9 69.6,525.9 70.8,524.2 72.1,522.9 73.3,521.9 74.6,521.3 75.8,521.0 77.1,521.1 78.3,521.6 79.6,522.4 80.8,523.5 82.0,524.9 83.3,526.7 84.5,528.8 85.8,531.1 87.0,533.7 88.3,536.6 89.5,539.7 90.8,542.9 92.0,546.4 93.3,550.0 94.5,553.7 95.8,557.5 97.0,561.4 98.3,565.3 99.5,569.3 100.8,573.2 102.0,577.2 103.3,581.1 104.5,585.0 105.8,588.8 107.0,592.5 108.2,596.2 109.5,599.7 110.7,603.1 112.0,606.3 113.2,609.4 114.5,612.3 115.7,615.1 117.0,617.7 118.2,620.2 119.5,622.4 120.7,624.5 122.0,626.4 123.2,628.2 124.5,629.7 125.7,631.1 127.0,632.3 128.2,633.4 129.5,634.3 130.7,635.0 132.0,635.6 133.2,636.0 134.5,636.3 135.7,636.5 136.9,636.6 138.2,636.6 139.4,636.6 140.7,636.6 141.9,636.6 143.2,636.6 144.4,636.6 145.7,636.6 146.9,636.6 148.2,636.6 149.4,636.6 150.7,636.6 151.9,636.6 153.2,636.6 154.4,636.6 155.7,636.6 156.9,636.6 158.2,636.6 159.4,636.6 160.7,636.6 161.9,636.6 163.1,636.6 164.4,636.6 165.6,636.6 166.9,636.6 168.1,636.6 169.4,636.6 170.6,636.6 171.9,636.6 173.1,636.6 174.4,636.6 175.6,636.6 176.9,636.6 178.1,636.6 179.4,636.6 180.6,636.6 181.9,636.6 183.1,636.6 184.4,636.6 185.6,636.6 186.9,636.6 188.1,636.6 189.3,636.6 190.6,636.6 191.8,636.6 193.1,636.6 194.3,636.6 195.6,636.6 196.8,636.6 198.1,636.6 199.3,636.6 200.6,636.6 201.8,636.6 203.1,636.6 204.3,636.6 205.6,636.6 206.8,636.6 208.1,636.6" stroke="#ff0000"/>
<path d="M34.6,622.0 35.9,618.7 37.1,614.8 38.4,610.6 39.6,606.0 40.9,601.0 42.1,595.8 43.4,590.3 44.6,584.6 45.9,578.9 47.1,573.2 48.4,567.5 49.6,562.0 50.9,556.7 52.1,551.6 53.4,546.9 54.6,542.6 55.8,538.7 57.1,535.2 58.3,532.2 59.6,529.7 60.8,527.7 62.1,526.2 63.3,525.1 64.6,524.5 65.8,524.3 67.1,524.6 68.3,525.2 69.6,526.2 70.8,527.5 72.1,529.1 73.3,531.0 74.6,533.1 75.8,535.4 77.1,537.9 78.3,540.5 79.6,543.3 80.8,546.1 82.0,549.0 83.3,552.0 84.5,554.9 85.8,557.9 87.0,560.9 88.3,563.9 89.5,566.8 90.8,569.7 92.0,572.6 93.3,575.4 94.5,578.1 95.8,580.8 97.0,583.3 98.3,585.8 99.5,588.3 100.8,590.6 102.0,592.9 103.3,595.0 104.5,597.1 105.8,599.1 107.0,601.0 108.2,602.9 109.5,604.6 110.7,606.3 112.0,607.9 113.2,609.4 114.5,610.9 115.7,612.3 117.0,613.6 118.2,614.9 119.5,616.1 120.7,617.2 122.0,618.3 123.2,619.3 124.5,620.2 125.7,621.2 127.0,622.0 128.2,622.8 129.5,623.6 130.7,624.4 132.0,625.0 133.2,625.7 134.5,626.3 135.7,626.9 136.9,627.5 138.2,628.0 139.4,628.5 140.7,629.0 141.9,629.4 143.2,629.8 144.4,630.2 145.7,630.6 146.9,630.9 148.2,631.2 149.4,631.6 150.7,631.9 151.9,632.1 153.2,632.4 154.4,632.6 155.7,632.9 156.9,633.1 158.2,633.3 159.4,633.5 160.7,633.7 161.9,633.8 163.1,634.0 164.4,634.1 165.6,634.3 166.9,634.4 168.1,634.6 169.4,634.7 170.6,634.8 171.9,634.9 173.1,635.0 174.4,635.1 175.6,635.2 176.9,635.3 178.1,635.3 179.4,635.4 180.6,635.5 181.9,635.5 183.1,635.6 184.4,635.7 185.6,635.7 186.9,635.8 188.1,635.8 189.3,635.9 190.6,635.9 191.8,635.9 193.1,636.0 194.3,636.0 195.6,636.1 196.8,636.1 198.1,636.1 199.3,636.1 200.6,636.2 201.8,636.2 203.1,636.2 204.3,636.2 205.6,636.3 206.8,636.3 208.1,636.3" stroke="#0000ff"/>
<path d="M34.6,616.2 35.9,614.7 37.1,613.1 38.4,611.3 39.6,609.5 40.9,607.6 42.1,605.6 43.4,603.4 44.6,601.2 45.9,598.8 47.1,596.4 48.4,593.8 49.6,591.2 50.9,588.4 52.1,585.5 53.4,582.5 54.6,579.5 55.8,576.3 57.1,573.1 58.3,569.8 59.6,566.4 60.8,563.0 62.1,559.6 63.3,556.1 64.6,552.7 65.8,549.2 67.1,545.8 68.3,542.5 69.6,539.3 70.8,536.2 72.1,533.2 73.3,530.4 74.6,527.9 75.8,525.5 77.1,523.5 78.3,521.7 79.6,520.3 80.8,519.3 82.0,518.6 83.3,518.4 84.5,518.6 85.8,519.3 87.0,520.4 88.3,522.0 89.5,524.2 90.8,526.7 92.0,529.8 93.3,533.3 94.5,537.2 95.8,541.5 97.0,546.2 98.3,551.1 99.5,556.3 100.8,561.7 102.0,567.2 103.3,572.8 104.5,578.4 105.8,583.9 107.0,589.3 108.2,594.5 109.5,599.5 110.7,604.2 112.0,608.6 113.2,612.6 114.5,616.3 115.7,619.6 117.0,622.6 118.2,625.2 119.5,627.4 120.7,629.3 122.0,630.9 123.2,632.2 124.5,633.2 125.7,634.1 127.0,634.7 128.2,635.2 129.5,635.6 130.7,635.9 132.0,636.1 133.2,636.3 134.5,636.4 135.7,636.5 136.9,636.5 138.2,636.5 139.4,636.6 140.7,636.6 141.9,636.6 143.2,636.6 144.4,636.6 145.7,636.6 146.9,636.6 148.2,636.6 149.4,636.6 150.7,636.6 151.9,636.6 153.2,636.6 154.4,636.6 155.7,636.6 156.9,636.6 158.2,636.6 159.4,636.6 160.7,636.6 161.9,636.6 163.1,636.6 164.4,636.6 165.6,636.6 166.9,636.6 168.1,636.6 169.4,636.6 170.6,636.6 171.9,636.6 173.1,636.6 174.4,636.6 175.6,636.6 176.9,636.6 178.1,636.6 179.4,636.6 180.6,636.6 181.9,636.6 183.1,636.6 184.4,636.6 185.6,636.6 186.9,636.6 188.1,636.6 189.3,636.6 190.6,636.6 191.8,636.6 193.1,636.6 194.3,636.6 195.6,636.6 196.8,636.6 198.1,636.6 199.3,636.6 200.6,636.6 201.8,636.6 203.1,636.6 204.3,636.6 205.6,636.6 206.8,636.6 208.1,636.6" stroke="#00ff00"/>
</g>
<g stroke="#000" stroke-width="0.5" fill="none">
<path d="M27.70,636.59 V482.29 M27.70,636.59 h-3.8 M27.70,598.01 h-3.8 M27.70,559.44 h-3.8 M27.70,520.87 h-3.8 M27.70,482.29 h-3.8"/>
<path d="M50.87,642.49 H212.87 M50.87,642.49 v3.1 M91.37,642.49 v3.1 M131.87,642.49 v3.1 M172.37,642.49 v3.1 M212.87,642.49 v3.1"/>
</g>
<text transform="translate(20.60,639.29) scale(1,1.06)" text-anchor="end">0.0</text>
<text transform="translate(20.60,600.72) scale(1,1.06)" text-anchor="end">0.5</text>
<text transform="translate(20.60,562.14) scale(1,1.06)" text-anchor="end">1.0</text>
<text transform="translate(20.60,523.57) scale(1,1.06)" text-anchor="end">1.5</text>
<text transform="translate(20.60,484.99) scale(1,1.06)" text-anchor="end">2.0</text>
<text transform="translate(50.87,655.49) scale(1,1.06)" text-anchor="middle">2.0</text>
<text transform="translate(91.37,655.49) scale(1,1.06)" text-anchor="middle">2.5</text>
<text transform="translate(131.87,655.49) scale(1,1.06)" text-anchor="middle">3.0</text>
<text transform="translate(172.37,655.49) scale(1,1.06)" text-anchor="middle">3.5</text>
<text transform="translate(212.87,655.49) scale(1,1.06)" text-anchor="middle">4.0</text>
<text transform="translate(121.35,668.89) scale(1,1.06)" text-anchor="middle">Wind data</text>
<text transform="translate(5.90,559.44) rotate(-90) scale(1,1.06)" text-anchor="middle">Density</text>
<rect x="136.30" y="476.19" width="78.70" height="35.00" fill="#fff" stroke="#000" stroke-width="0.5"/>
<path d="M141.40,483.29 h10.5" stroke="#000" stroke-width="1.2" fill="none"/>
<text transform="translate(211.70,485.59) scale(1,1.06)" text-anchor="end">Observed</text>
<path d="M141.40,490.16 h10.5" stroke="#ff0000" stroke-width="1.2" fill="none"/>
<text transform="translate(211.70,492.46) scale(1,1.06)" text-anchor="end">GEV fit</text>
<path d="M141.40,497.03 h10.5" stroke="#0000ff" stroke-width="1.2" fill="none"/>
<text transform="translate(211.70,499.33) scale(1,1.06)" text-anchor="end">Gumbel fit</text>
<path d="M141.40,503.90 h10.5" stroke="#00ff00" stroke-width="1.2" fill="none"/>
<text transform="translate(211.70,506.20) scale(1,1.06)" text-anchor="end">Weibull fit</text>
</g>
<g id="panel-august">
<text transform="translate(356.15,465.49) scale(1,1.06)" text-anchor="middle" font-size="6.9" font-weight="bold">August</text>
<g clip-path="url(#cp7)" stroke="#000" stroke-width="0.45" fill="#d3d3d3">
<rect x="255.34" y="630.27" width="15.21" height="6.32"/>
<rect x="270.55" y="611.29" width="15.21" height="25.30"/>
<rect x="285.76" y="598.65" width="15.21" height="37.94"/>
<rect x="300.97" y="592.32" width="15.21" height="44.27"/>
<rect x="316.19" y="522.76" width="15.21" height="113.83"/>
<rect x="331.40" y="548.06" width="15.21" height="88.53"/>
<rect x="346.61" y="586.00" width="15.21" height="50.59"/>
<rect x="361.82" y="617.62" width="15.21" height="18.97"/>
</g>
<g clip-path="url(#cp7)" fill="none" stroke-width="1.1" stroke-linejoin="round">
<path d="M254.5,636.4 255.2,636.1 255.8,635.8 256.5,635.5 257.1,635.0 257.8,634.5 258.5,634.0 259.1,633.4 259.8,632.8 260.4,632.2 261.1,631.5 261.8,630.8 262.4,630.0 263.1,629.2 263.7,628.3 264.4,627.3 265.1,626.4 265.7,625.4 266.4,624.5 267.0,623.5 267.7,622.7 268.4,621.8 269.0,621.0 269.7,620.3 270.3,619.7 271.0,619.1 271.7,618.5 272.3,618.0 273.0,617.6 273.6,617.2 274.3,616.8 275.0,616.5 275.6,616.3 276.3,616.2 276.9,616.0 277.6,616.0 278.3,616.0 278.9,615.9 279.6,616.0 280.3,616.0 280.9,616.0 281.6,616.1 282.2,616.1 282.9,616.1 283.6,616.1 284.2,616.1 284.9,616.0 285.5,615.9 286.2,615.8 286.9,615.7 287.5,615.4 288.2,615.1 288.8,614.6 289.5,614.1 290.2,613.4 290.8,612.6 291.5,611.6 292.1,610.5 292.8,609.3 293.5,608.0 294.1,606.5 294.8,605.1 295.4,603.6 296.1,602.1 296.8,600.6 297.4,599.0 298.1,597.4 298.7,595.8 299.4,594.2 300.1,592.6 300.7,591.0 301.4,589.5 302.0,587.9 302.7,586.5 303.4,585.1 304.0,584.0 304.7,583.0 305.3,582.2 306.0,581.5 306.7,580.8 307.3,580.2 308.0,579.6 308.6,578.9 309.3,578.0 310.0,577.0 310.6,575.7 311.3,574.2 311.9,572.4 312.6,570.5 313.3,568.4 313.9,566.1 314.6,563.6 315.2,560.9 315.9,558.0 316.6,555.0 317.2,551.9 317.9,548.9 318.5,545.9 319.2,542.9 319.9,540.0 320.5,537.2 321.2,534.5 321.8,532.1 322.5,530.0 323.2,528.1 323.8,526.5 324.5,524.9 325.1,523.5 325.8,522.2 326.5,521.1 327.1,520.1 327.8,519.2 328.4,518.6 329.1,518.1 329.8,518.0 330.4,518.2 331.1,518.6 331.8,519.4 332.4,520.5 333.1,521.9 333.7,523.4 334.4,525.1 335.1,526.9 335.7,528.8 336.4,530.8 337.0,532.8 337.7,534.9 338.4,537.2 339.0,539.7 339.7,542.3 340.3,544.9 341.0,547.5 341.7,550.0 342.3,552.4 343.0,554.7 343.6,556.8 344.3,558.9 345.0,560.8 345.6,562.7 346.3,564.6 346.9,566.4 347.6,568.1 348.3,569.9 348.9,571.6 349.6,573.2 350.2,574.8 350.9,576.4 351.6,577.9 352.2,579.5 352.9,581.0 353.5,582.5 354.2,584.0 354.9,585.6 355.5,587.2 356.2,588.8 356.8,590.5 357.5,592.2 358.2,593.9 358.8,595.7 359.5,597.5 360.1,599.3 360.8,601.1 361.5,602.9 362.1,604.7 362.8,606.5 363.4,608.4 364.1,610.3 364.8,612.2 365.4,614.1 366.1,615.9 366.7,617.6 367.4,619.3 368.1,620.8 368.7,622.1 369.4,623.4 370.0,624.5 370.7,625.6 371.4,626.6 372.0,627.5 372.7,628.4 373.3,629.2 374.0,629.9 374.7,630.6 375.3,631.2 376.0,631.8 376.6,632.3 377.3,632.8 378.0,633.3 378.6,633.7 379.3,634.1 379.9,634.4 380.6,634.7 381.3,635.0 381.9,635.3 382.6,635.5 383.3,635.6 383.9,635.8 384.6,635.9 385.2,636.0 385.9,636.1" stroke="#000"/>
<path d="M269.4,629.9 270.7,629.2 271.9,628.4 273.2,627.5 274.4,626.6 275.7,625.7 276.9,624.6 278.2,623.5 279.4,622.3 280.7,621.0 281.9,619.6 283.2,618.1 284.4,616.6 285.7,614.9 286.9,613.2 288.2,611.4 289.4,609.4 290.6,607.4 291.9,605.3 293.1,603.1 294.4,600.9 295.6,598.5 296.9,596.1 298.1,593.5 299.4,590.9 300.6,588.3 301.9,585.6 303.1,582.8 304.4,580.0 305.6,577.2 306.9,574.4 308.1,571.5 309.4,568.7 310.6,565.8 311.9,563.0 313.1,560.3 314.4,557.6 315.6,554.9 316.8,552.4 318.1,550.0 319.3,547.6 320.6,545.4 321.8,543.4 323.1,541.5 324.3,539.8 325.6,538.3 326.8,537.0 328.1,535.9 329.3,535.0 330.6,534.4 331.8,534.0 333.1,533.9 334.3,534.1 335.6,534.5 336.8,535.2 338.1,536.2 339.3,537.5 340.6,539.0 341.8,540.9 343.0,543.0 344.3,545.4 345.5,548.0 346.8,550.9 348.0,554.1 349.3,557.5 350.5,561.1 351.8,565.0 353.0,569.0 354.3,573.2 355.5,577.5 356.8,582.0 358.0,586.6 359.3,591.3 360.5,596.1 361.8,600.9 363.0,605.7 364.3,610.5 365.5,615.2 366.8,619.8 368.0,624.3 369.3,628.6 370.5,632.6 371.7,636.0 373.0,636.6 374.2,636.6 375.5,636.6 376.7,636.6 378.0,636.6 379.2,636.6 380.5,636.6 381.7,636.6 383.0,636.6 384.2,636.6 385.5,636.6 386.7,636.6 388.0,636.6 389.2,636.6 390.5,636.6 391.7,636.6 393.0,636.6 394.2,636.6 395.5,636.6 396.7,636.6 397.9,636.6 399.2,636.6 400.4,636.6 401.7,636.6 402.9,636.6 404.2,636.6 405.4,636.6 406.7,636.6 407.9,636.6 409.2,636.6 410.4,636.6 411.7,636.6 412.9,636.6 414.2,636.6 415.4,636.6 416.7,636.6 417.9,636.6 419.2,636.6 420.4,636.6 421.7,636.6 422.9,636.6 424.1,636.6 425.4,636.6 426.6,636.6 427.9,636.6 429.1,636.6 430.4,636.6 431.6,636.6 432.9,636.6 434.1,636.6 435.4,636.6 436.6,636.6 437.9,636.6 439.1,636.6 440.4,636.6 441.6,636.6 442.9,636.6" stroke="#ff0000"/>
<path d="M269.4,634.2 270.7,633.4 271.9,632.4 273.2,631.3 274.4,629.9 275.7,628.3 276.9,626.5 278.2,624.4 279.4,622.0 280.7,619.4 281.9,616.5 283.2,613.4 284.4,610.1 285.7,606.7 286.9,603.0 288.2,599.2 289.4,595.4 290.6,591.5 291.9,587.5 293.1,583.6 294.4,579.8 295.6,576.0 296.9,572.4 298.1,568.9 299.4,565.7 300.6,562.6 301.9,559.8 303.1,557.2 304.4,554.9 305.6,552.9 306.9,551.2 308.1,549.7 309.4,548.5 310.6,547.7 311.9,547.0 313.1,546.7 314.4,546.6 315.6,546.7 316.8,547.1 318.1,547.7 319.3,548.5 320.6,549.4 321.8,550.6 323.1,551.9 324.3,553.3 325.6,554.8 326.8,556.5 328.1,558.2 329.3,560.0 330.6,561.9 331.8,563.9 333.1,565.9 334.3,567.9 335.6,569.9 336.8,572.0 338.1,574.0 339.3,576.1 340.6,578.1 341.8,580.1 343.0,582.1 344.3,584.1 345.5,586.0 346.8,587.9 348.0,589.8 349.3,591.6 350.5,593.4 351.8,595.1 353.0,596.8 354.3,598.4 355.5,600.0 356.8,601.5 358.0,603.0 359.3,604.5 360.5,605.9 361.8,607.2 363.0,608.5 364.3,609.7 365.5,610.9 366.8,612.1 368.0,613.2 369.3,614.3 370.5,615.3 371.7,616.3 373.0,617.2 374.2,618.1 375.5,619.0 376.7,619.8 378.0,620.6 379.2,621.4 380.5,622.1 381.7,622.8 383.0,623.4 384.2,624.1 385.5,624.7 386.7,625.2 388.0,625.8 389.2,626.3 390.5,626.8 391.7,627.3 393.0,627.7 394.2,628.2 395.5,628.6 396.7,629.0 397.9,629.4 399.2,629.7 400.4,630.1 401.7,630.4 402.9,630.7 404.2,631.0 405.4,631.3 406.7,631.5 407.9,631.8 409.2,632.0 410.4,632.2 411.7,632.5 412.9,632.7 414.2,632.9 415.4,633.0 416.7,633.2 417.9,633.4 419.2,633.5 420.4,633.7 421.7,633.8 422.9,634.0 424.1,634.1 425.4,634.2 426.6,634.4 427.9,634.5 429.1,634.6 430.4,634.7 431.6,634.8 432.9,634.9 434.1,635.0 435.4,635.0 436.6,635.1 437.9,635.2 439.1,635.3 440.4,635.3 441.6,635.4 442.9,635.4" stroke="#0000ff"/>
<path d="M269.4,629.2 270.7,628.5 271.9,627.9 273.2,627.1 274.4,626.4 275.7,625.5 276.9,624.6 278.2,623.7 279.4,622.7 280.7,621.6 281.9,620.4 283.2,619.2 284.4,617.9 285.7,616.5 286.9,615.0 288.2,613.5 289.4,611.8 290.6,610.1 291.9,608.3 293.1,606.3 294.4,604.3 295.6,602.2 296.9,599.9 298.1,597.6 299.4,595.2 300.6,592.7 301.9,590.0 303.1,587.3 304.4,584.5 305.6,581.6 306.9,578.6 308.1,575.6 309.4,572.5 310.6,569.3 311.9,566.1 313.1,562.9 314.4,559.7 315.6,556.4 316.8,553.2 318.1,550.1 319.3,547.0 320.6,544.0 321.8,541.1 323.1,538.4 324.3,535.8 325.6,533.5 326.8,531.4 328.1,529.6 329.3,528.1 330.6,526.9 331.8,526.0 333.1,525.6 334.3,525.5 335.6,525.9 336.8,526.7 338.1,528.0 339.3,529.7 340.6,531.9 341.8,534.6 343.0,537.7 344.3,541.2 345.5,545.1 346.8,549.3 348.0,553.9 349.3,558.8 350.5,563.8 351.8,569.0 353.0,574.3 354.3,579.6 355.5,584.9 356.8,590.1 358.0,595.2 359.3,600.0 360.5,604.6 361.8,608.9 363.0,612.9 364.3,616.6 365.5,619.8 366.8,622.7 368.0,625.3 369.3,627.5 370.5,629.4 371.7,630.9 373.0,632.2 374.2,633.3 375.5,634.1 376.7,634.8 378.0,635.3 379.2,635.7 380.5,636.0 381.7,636.2 383.0,636.3 384.2,636.4 385.5,636.5 386.7,636.5 388.0,636.5 389.2,636.6 390.5,636.6 391.7,636.6 393.0,636.6 394.2,636.6 395.5,636.6 396.7,636.6 397.9,636.6 399.2,636.6 400.4,636.6 401.7,636.6 402.9,636.6 404.2,636.6 405.4,636.6 406.7,636.6 407.9,636.6 409.2,636.6 410.4,636.6 411.7,636.6 412.9,636.6 414.2,636.6 415.4,636.6 416.7,636.6 417.9,636.6 419.2,636.6 420.4,636.6 421.7,636.6 422.9,636.6 424.1,636.6 425.4,636.6 426.6,636.6 427.9,636.6 429.1,636.6 430.4,636.6 431.6,636.6 432.9,636.6 434.1,636.6 435.4,636.6 436.6,636.6 437.9,636.6 439.1,636.6 440.4,636.6 441.6,636.6 442.9,636.6" stroke="#00ff00"/>
</g>
<g stroke="#000" stroke-width="0.5" fill="none">
<path d="M262.50,636.59 V482.29 M262.50,636.59 h-3.8 M262.50,598.01 h-3.8 M262.50,559.44 h-3.8 M262.50,520.87 h-3.8 M262.50,482.29 h-3.8"/>
<path d="M270.55,642.49 H422.67 M270.55,642.49 v3.1 M308.58,642.49 v3.1 M346.61,642.49 v3.1 M384.64,642.49 v3.1 M422.67,642.49 v3.1"/>
</g>
<text transform="translate(255.40,639.29) scale(1,1.06)" text-anchor="end">0.0</text>
<text transform="translate(255.40,600.72) scale(1,1.06)" text-anchor="end">0.5</text>
<text transform="translate(255.40,562.14) scale(1,1.06)" text-anchor="end">1.0</text>
<text transform="translate(255.40,523.57) scale(1,1.06)" text-anchor="end">1.5</text>
<text transform="translate(255.40,484.99) scale(1,1.06)" text-anchor="end">2.0</text>
<text transform="translate(270.55,655.49) scale(1,1.06)" text-anchor="middle">2.0</text>
<text transform="translate(308.58,655.49) scale(1,1.06)" text-anchor="middle">2.5</text>
<text transform="translate(346.61,655.49) scale(1,1.06)" text-anchor="middle">3.0</text>
<text transform="translate(384.64,655.49) scale(1,1.06)" text-anchor="middle">3.5</text>
<text transform="translate(422.67,655.49) scale(1,1.06)" text-anchor="middle">4.0</text>
<text transform="translate(356.15,668.89) scale(1,1.06)" text-anchor="middle">Wind data</text>
<text transform="translate(240.70,559.44) rotate(-90) scale(1,1.06)" text-anchor="middle">Density</text>
<rect x="371.10" y="476.19" width="78.70" height="35.00" fill="#fff" stroke="#000" stroke-width="0.5"/>
<path d="M376.20,483.29 h10.5" stroke="#000" stroke-width="1.2" fill="none"/>
<text transform="translate(446.50,485.59) scale(1,1.06)" text-anchor="end">Observed</text>
<path d="M376.20,490.16 h10.5" stroke="#ff0000" stroke-width="1.2" fill="none"/>
<text transform="translate(446.50,492.46) scale(1,1.06)" text-anchor="end">GEV fit</text>
<path d="M376.20,497.03 h10.5" stroke="#0000ff" stroke-width="1.2" fill="none"/>
<text transform="translate(446.50,499.33) scale(1,1.06)" text-anchor="end">Gumbel fit</text>
<path d="M376.20,503.90 h10.5" stroke="#00ff00" stroke-width="1.2" fill="none"/>
<text transform="translate(446.50,506.20) scale(1,1.06)" text-anchor="end">Weibull fit</text>
</g>
<g id="panel-september">
<text transform="translate(590.95,465.49) scale(1,1.06)" text-anchor="middle" font-size="6.9" font-weight="bold">September</text>
<g clip-path="url(#cp8)" stroke="#000" stroke-width="0.45" fill="#d3d3d3">
<rect x="504.67" y="613.82" width="31.42" height="22.77"/>
<rect x="536.09" y="580.94" width="31.42" height="55.65"/>
<rect x="567.51" y="580.94" width="31.42" height="55.65"/>
<rect x="598.93" y="616.35" width="31.42" height="20.24"/>
</g>
<g clip-path="url(#cp8)" fill="none" stroke-width="1.1" stroke-linejoin="round">
<path d="M489.3,634.7 490.0,634.5 490.8,634.3 491.5,633.9 492.3,633.6 493.0,633.3 493.7,633.0 494.5,632.7 495.2,632.3 495.9,632.0 496.7,631.7 497.4,631.4 498.2,631.0 498.9,630.7 499.6,630.4 500.4,630.1 501.1,629.7 501.8,629.4 502.6,629.1 503.3,628.8 504.1,628.5 504.8,628.2 505.5,627.9 506.3,627.6 507.0,627.3 507.7,627.0 508.5,626.6 509.2,626.3 510.0,626.0 510.7,625.6 511.4,625.2 512.2,624.8 512.9,624.4 513.7,623.9 514.4,623.3 515.1,622.7 515.9,622.0 516.6,621.3 517.3,620.4 518.1,619.4 518.8,618.4 519.6,617.2 520.3,616.0 521.0,614.7 521.8,613.3 522.5,611.9 523.2,610.4 524.0,609.0 524.7,607.6 525.5,606.2 526.2,604.9 526.9,603.7 527.7,602.5 528.4,601.4 529.2,600.4 529.9,599.4 530.6,598.5 531.4,597.7 532.1,596.9 532.8,596.2 533.6,595.6 534.3,595.0 535.1,594.5 535.8,593.9 536.5,593.4 537.3,592.9 538.0,592.3 538.7,591.7 539.5,591.1 540.2,590.5 541.0,589.8 541.7,589.1 542.4,588.3 543.2,587.5 543.9,586.7 544.6,585.9 545.4,585.1 546.1,584.3 546.9,583.5 547.6,582.7 548.3,581.8 549.1,580.9 549.8,580.0 550.6,579.1 551.3,578.1 552.0,577.1 552.8,576.1 553.5,575.0 554.2,573.9 555.0,572.7 555.7,571.6 556.5,570.5 557.2,569.3 557.9,568.2 558.7,567.1 559.4,566.0 560.1,564.9 560.9,563.8 561.6,562.8 562.4,561.8 563.1,560.9 563.8,560.2 564.6,559.6 565.3,559.1 566.1,558.6 566.8,558.2 567.5,557.9 568.3,557.6 569.0,557.5 569.7,557.5 570.5,557.6 571.2,558.0 572.0,558.4 572.7,559.1 573.4,559.9 574.2,560.9 574.9,562.3 575.6,564.0 576.4,566.1 577.1,568.4 577.9,570.9 578.6,573.5 579.3,576.2 580.1,578.9 580.8,581.6 581.5,584.4 582.3,587.1 583.0,589.7 583.8,592.1 584.5,594.3 585.2,596.3 586.0,598.3 586.7,600.1 587.5,601.7 588.2,603.2 588.9,604.4 589.7,605.3 590.4,606.1 591.1,606.8 591.9,607.4 592.6,607.9 593.4,608.2 594.1,608.5 594.8,608.6 595.6,608.6 596.3,608.5 597.0,608.2 597.8,607.9 598.5,607.6 599.3,607.2 600.0,606.9 600.7,606.7 601.5,606.4 602.2,606.2 603.0,606.0 603.7,605.9 604.4,605.8 605.2,605.7 605.9,605.8 606.6,606.0 607.4,606.3 608.1,606.9 608.9,607.7 609.6,608.5 610.3,609.5 611.1,610.4 611.8,611.5 612.5,612.5 613.3,613.6 614.0,614.8 614.8,616.0 615.5,617.3 616.2,618.5 617.0,619.7 617.7,620.9 618.4,622.1 619.2,623.3 619.9,624.5 620.7,625.6 621.4,626.7 622.1,627.8 622.9,628.7 623.6,629.6 624.4,630.4 625.1,631.2 625.8,631.9 626.6,632.6 627.3,633.3 628.0,633.9 628.8,634.3 629.5,634.7 630.3,635.1 631.0,635.3 631.7,635.6 632.5,635.8 633.2,635.9 633.9,636.1 634.7,636.2 635.4,636.3 636.2,636.4" stroke="#000"/>
<path d="M504.2,630.4 505.5,629.7 506.7,629.0 508.0,628.2 509.2,627.4 510.5,626.5 511.7,625.6 513.0,624.5 514.2,623.5 515.5,622.3 516.7,621.1 518.0,619.8 519.2,618.5 520.5,617.1 521.7,615.6 523.0,614.1 524.2,612.5 525.4,610.8 526.7,609.1 527.9,607.4 529.2,605.6 530.4,603.7 531.7,601.9 532.9,600.0 534.2,598.0 535.4,596.1 536.7,594.2 537.9,592.2 539.2,590.2 540.4,588.3 541.7,586.4 542.9,584.5 544.2,582.6 545.4,580.8 546.7,579.1 547.9,577.4 549.2,575.8 550.4,574.2 551.6,572.8 552.9,571.4 554.1,570.1 555.4,569.0 556.6,567.9 557.9,567.0 559.1,566.2 560.4,565.5 561.6,565.0 562.9,564.6 564.1,564.3 565.4,564.2 566.6,564.2 567.9,564.4 569.1,564.7 570.4,565.1 571.6,565.7 572.9,566.4 574.1,567.3 575.4,568.3 576.6,569.4 577.8,570.6 579.1,571.9 580.3,573.4 581.6,574.9 582.8,576.5 584.1,578.3 585.3,580.1 586.6,582.0 587.8,583.9 589.1,585.9 590.3,588.0 591.6,590.1 592.8,592.2 594.1,594.4 595.3,596.5 596.6,598.7 597.8,600.9 599.1,603.0 600.3,605.2 601.6,607.3 602.8,609.4 604.1,611.5 605.3,613.5 606.5,615.5 607.8,617.4 609.0,619.2 610.3,621.0 611.5,622.7 612.8,624.3 614.0,625.9 615.3,627.3 616.5,628.7 617.8,630.0 619.0,631.2 620.3,632.2 621.5,633.2 622.8,634.1 624.0,634.8 625.3,635.4 626.5,635.9 627.8,636.3 629.0,636.5 630.3,636.6 631.5,636.6 632.7,636.6 634.0,636.6 635.2,636.6 636.5,636.6 637.7,636.6 639.0,636.6 640.2,636.6 641.5,636.6 642.7,636.6 644.0,636.6 645.2,636.6 646.5,636.6 647.7,636.6 649.0,636.6 650.2,636.6 651.5,636.6 652.7,636.6 654.0,636.6 655.2,636.6 656.5,636.6 657.7,636.6 658.9,636.6 660.2,636.6 661.4,636.6 662.7,636.6 663.9,636.6 665.2,636.6 666.4,636.6 667.7,636.6 668.9,636.6 670.2,636.6 671.4,636.6 672.7,636.6 673.9,636.6 675.2,636.6 676.4,636.6 677.7,636.6" stroke="#ff0000"/>
<path d="M504.2,634.3 505.5,633.7 506.7,632.9 508.0,632.0 509.2,630.9 510.5,629.6 511.7,628.2 513.0,626.6 514.2,624.8 515.5,622.8 516.7,620.7 518.0,618.4 519.2,615.9 520.5,613.4 521.7,610.7 523.0,607.9 524.2,605.0 525.4,602.1 526.7,599.2 527.9,596.3 529.2,593.4 530.4,590.6 531.7,587.9 532.9,585.2 534.2,582.7 535.4,580.4 536.7,578.1 537.9,576.1 539.2,574.2 540.4,572.5 541.7,571.0 542.9,569.8 544.2,568.7 545.4,567.8 546.7,567.1 547.9,566.6 549.2,566.3 550.4,566.1 551.6,566.2 552.9,566.4 554.1,566.8 555.4,567.3 556.6,567.9 557.9,568.7 559.1,569.5 560.4,570.5 561.6,571.6 562.9,572.8 564.1,574.0 565.4,575.3 566.6,576.7 567.9,578.1 569.1,579.5 570.4,581.0 571.6,582.5 572.9,584.0 574.1,585.5 575.4,587.0 576.6,588.5 577.8,590.0 579.1,591.5 580.3,593.0 581.6,594.5 582.8,595.9 584.1,597.4 585.3,598.8 586.6,600.2 587.8,601.5 589.1,602.8 590.3,604.1 591.6,605.3 592.8,606.6 594.1,607.7 595.3,608.9 596.6,610.0 597.8,611.1 599.1,612.1 600.3,613.1 601.6,614.1 602.8,615.1 604.1,616.0 605.3,616.8 606.5,617.7 607.8,618.5 609.0,619.3 610.3,620.0 611.5,620.8 612.8,621.5 614.0,622.1 615.3,622.8 616.5,623.4 617.8,624.0 619.0,624.5 620.3,625.1 621.5,625.6 622.8,626.1 624.0,626.6 625.3,627.0 626.5,627.5 627.8,627.9 629.0,628.3 630.3,628.7 631.5,629.0 632.7,629.4 634.0,629.7 635.2,630.0 636.5,630.3 637.7,630.6 639.0,630.9 640.2,631.2 641.5,631.4 642.7,631.7 644.0,631.9 645.2,632.1 646.5,632.3 647.7,632.5 649.0,632.7 650.2,632.9 651.5,633.1 652.7,633.2 654.0,633.4 655.2,633.6 656.5,633.7 657.7,633.8 658.9,634.0 660.2,634.1 661.4,634.2 662.7,634.3 663.9,634.4 665.2,634.5 666.4,634.6 667.7,634.7 668.9,634.8 670.2,634.9 671.4,635.0 672.7,635.1 673.9,635.1 675.2,635.2 676.4,635.3 677.7,635.3" stroke="#0000ff"/>
<path d="M504.2,628.1 505.5,627.5 506.7,626.9 508.0,626.3 509.2,625.6 510.5,624.9 511.7,624.1 513.0,623.3 514.2,622.5 515.5,621.6 516.7,620.7 518.0,619.8 519.2,618.8 520.5,617.7 521.7,616.7 523.0,615.5 524.2,614.4 525.4,613.2 526.7,611.9 527.9,610.6 529.2,609.3 530.4,607.9 531.7,606.4 532.9,605.0 534.2,603.5 535.4,601.9 536.7,600.4 537.9,598.8 539.2,597.1 540.4,595.5 541.7,593.8 542.9,592.1 544.2,590.4 545.4,588.6 546.7,586.9 547.9,585.2 549.2,583.5 550.4,581.8 551.6,580.1 552.9,578.5 554.1,576.9 555.4,575.3 556.6,573.8 557.9,572.4 559.1,571.0 560.4,569.8 561.6,568.6 562.9,567.5 564.1,566.5 565.4,565.7 566.6,565.0 567.9,564.4 569.1,564.0 570.4,563.7 571.6,563.6 572.9,563.7 574.1,563.9 575.4,564.3 576.6,564.9 577.8,565.7 579.1,566.7 580.3,567.8 581.6,569.1 582.8,570.6 584.1,572.2 585.3,574.1 586.6,576.0 587.8,578.1 589.1,580.3 590.3,582.7 591.6,585.1 592.8,587.6 594.1,590.2 595.3,592.8 596.6,595.5 597.8,598.1 599.1,600.8 600.3,603.4 601.6,606.0 602.8,608.5 604.1,610.9 605.3,613.3 606.5,615.5 607.8,617.7 609.0,619.7 610.3,621.6 611.5,623.4 612.8,625.0 614.0,626.5 615.3,627.9 616.5,629.1 617.8,630.2 619.0,631.2 620.3,632.0 621.5,632.8 622.8,633.5 624.0,634.0 625.3,634.5 626.5,634.9 627.8,635.3 629.0,635.5 630.3,635.8 631.5,635.9 632.7,636.1 634.0,636.2 635.2,636.3 636.5,636.4 637.7,636.4 639.0,636.5 640.2,636.5 641.5,636.5 642.7,636.6 644.0,636.6 645.2,636.6 646.5,636.6 647.7,636.6 649.0,636.6 650.2,636.6 651.5,636.6 652.7,636.6 654.0,636.6 655.2,636.6 656.5,636.6 657.7,636.6 658.9,636.6 660.2,636.6 661.4,636.6 662.7,636.6 663.9,636.6 665.2,636.6 666.4,636.6 667.7,636.6 668.9,636.6 670.2,636.6 671.4,636.6 672.7,636.6 673.9,636.6 675.2,636.6 676.4,636.6 677.7,636.6" stroke="#00ff00"/>
</g>
<g stroke="#000" stroke-width="0.5" fill="none">
<path d="M497.30,636.59 V482.29 M497.30,636.59 h-3.8 M497.30,598.01 h-3.8 M497.30,559.44 h-3.8 M497.30,520.87 h-3.8 M497.30,482.29 h-3.8"/>
<path d="M504.67,642.49 H661.77 M504.67,642.49 v3.1 M536.09,642.49 v3.1 M567.51,642.49 v3.1 M598.93,642.49 v3.1 M630.35,642.49 v3.1 M661.77,642.49 v3.1"/>
</g>
<text transform="translate(490.20,639.29) scale(1,1.06)" text-anchor="end">0.0</text>
<text transform="translate(490.20,600.72) scale(1,1.06)" text-anchor="end">0.5</text>
<text transform="translate(490.20,562.14) scale(1,1.06)" text-anchor="end">1.0</text>
<text transform="translate(490.20,523.57) scale(1,1.06)" text-anchor="end">1.5</text>
<text transform="translate(490.20,484.99) scale(1,1.06)" text-anchor="end">2.0</text>
<text transform="translate(504.67,655.49) scale(1,1.06)" text-anchor="middle">2.0</text>
<text transform="translate(536.09,655.49) scale(1,1.06)" text-anchor="middle">2.5</text>
<text transform="translate(567.51,655.49) scale(1,1.06)" text-anchor="middle">3.0</text>
<text transform="translate(598.93,655.49) scale(1,1.06)" text-anchor="middle">3.5</text>
<text transform="translate(630.35,655.49) scale(1,1.06)" text-anchor="middle">4.0</text>
<text transform="translate(661.77,655.49) scale(1,1.06)" text-anchor="middle">4.5</text>
<text transform="translate(590.95,668.89) scale(1,1.06)" text-anchor="middle">Wind data</text>
<text transform="translate(475.50,559.44) rotate(-90) scale(1,1.06)" text-anchor="middle">Density</text>
<rect x="605.90" y="476.19" width="78.70" height="35.00" fill="#fff" stroke="#000" stroke-width="0.5"/>
<path d="M611.00,483.29 h10.5" stroke="#000" stroke-width="1.2" fill="none"/>
<text transform="translate(681.30,485.59) scale(1,1.06)" text-anchor="end">Observed</text>
<path d="M611.00,490.16 h10.5" stroke="#ff0000" stroke-width="1.2" fill="none"/>
<text transform="translate(681.30,492.46) scale(1,1.06)" text-anchor="end">GEV fit</text>
<path d="M611.00,497.03 h10.5" stroke="#0000ff" stroke-width="1.2" fill="none"/>
<text transform="translate(681.30,499.33) scale(1,1.06)" text-anchor="end">Gumbel fit</text>
<path d="M611.00,503.90 h10.5" stroke="#00ff00" stroke-width="1.2" fill="none"/>
<text transform="translate(681.30,506.20) scale(1,1.06)" text-anchor="end">Weibull fit</text>
</g>
<g id="panel-october">
<text transform="translate(121.35,695.36) scale(1,1.06)" text-anchor="middle" font-size="6.9" font-weight="bold">October</text>
<g clip-path="url(#cp9)" stroke="#000" stroke-width="0.45" fill="#d3d3d3">
<rect x="30.77" y="828.52" width="15.63" height="37.94"/>
<rect x="46.41" y="809.55" width="15.63" height="56.91"/>
<rect x="62.04" y="727.34" width="15.63" height="139.12"/>
<rect x="77.67" y="815.87" width="15.63" height="50.59"/>
<rect x="93.31" y="790.57" width="15.63" height="75.89"/>
<rect x="108.94" y="847.49" width="15.63" height="18.97"/>
<rect x="124.58" y="860.14" width="15.63" height="6.32"/>
</g>
<g clip-path="url(#cp9)" fill="none" stroke-width="1.1" stroke-linejoin="round">
<path d="M19.7,865.6 20.3,864.9 21.0,864.0 21.6,862.9 22.3,861.7 22.9,860.5 23.6,859.3 24.2,858.1 24.9,856.9 25.5,855.6 26.2,854.4 26.8,853.1 27.5,851.8 28.1,850.5 28.8,849.2 29.4,847.9 30.1,846.6 30.7,845.3 31.4,844.1 32.0,842.8 32.7,841.6 33.3,840.5 34.0,839.4 34.6,838.4 35.3,837.4 35.9,836.5 36.6,835.6 37.2,834.8 37.9,834.0 38.5,833.3 39.1,832.5 39.8,831.8 40.4,831.0 41.1,830.2 41.7,829.3 42.4,828.4 43.0,827.5 43.7,826.5 44.3,825.5 45.0,824.6 45.6,823.6 46.3,822.5 46.9,821.3 47.6,819.9 48.2,818.3 48.9,816.6 49.5,814.6 50.2,812.6 50.8,810.4 51.5,808.1 52.1,805.8 52.8,803.3 53.4,800.8 54.1,798.2 54.7,795.4 55.4,792.5 56.0,789.6 56.7,786.6 57.3,783.7 57.9,780.9 58.6,778.2 59.2,775.5 59.9,773.0 60.5,770.5 61.2,768.1 61.8,765.8 62.5,763.7 63.1,761.7 63.8,760.0 64.4,758.5 65.1,757.3 65.7,756.2 66.4,755.3 67.0,754.6 67.7,753.9 68.3,753.4 69.0,753.0 69.6,752.8 70.3,752.8 70.9,753.1 71.6,753.6 72.2,754.3 72.9,755.2 73.5,756.2 74.2,757.4 74.8,758.8 75.5,760.4 76.1,762.3 76.8,764.3 77.4,766.6 78.0,769.0 78.7,771.3 79.3,773.7 80.0,776.0 80.6,778.3 81.3,780.5 81.9,782.7 82.6,784.8 83.2,786.9 83.9,788.8 84.5,790.5 85.2,792.0 85.8,793.3 86.5,794.4 87.1,795.3 87.8,796.2 88.4,797.0 89.1,797.6 89.7,798.2 90.4,798.7 91.0,799.0 91.7,799.3 92.3,799.6 93.0,799.7 93.6,799.9 94.3,800.0 94.9,800.2 95.6,800.3 96.2,800.5 96.8,800.8 97.5,801.1 98.1,801.5 98.8,802.0 99.4,802.5 100.1,803.2 100.7,803.9 101.4,804.7 102.0,805.6 102.7,806.6 103.3,807.8 104.0,809.2 104.6,810.7 105.3,812.4 105.9,814.1 106.6,815.8 107.2,817.5 107.9,819.3 108.5,821.0 109.2,822.8 109.8,824.6 110.5,826.4 111.1,828.2 111.8,830.0 112.4,831.7 113.1,833.3 113.7,834.9 114.4,836.4 115.0,837.8 115.6,839.1 116.3,840.4 116.9,841.7 117.6,842.9 118.2,844.0 118.9,845.2 119.5,846.2 120.2,847.2 120.8,848.2 121.5,849.1 122.1,849.9 122.8,850.8 123.4,851.6 124.1,852.3 124.7,853.1 125.4,853.8 126.0,854.5 126.7,855.1 127.3,855.8 128.0,856.4 128.6,857.0 129.3,857.6 129.9,858.2 130.6,858.8 131.2,859.3 131.9,859.8 132.5,860.3 133.2,860.7 133.8,861.1 134.4,861.5 135.1,861.9 135.7,862.2 136.4,862.5 137.0,862.8 137.7,863.1 138.3,863.4 139.0,863.6 139.6,863.8 140.3,864.0 140.9,864.2 141.6,864.4 142.2,864.5 142.9,864.7 143.5,864.8 144.2,865.0 144.8,865.1 145.5,865.2 146.1,865.3 146.8,865.4 147.4,865.5 148.1,865.5 148.7,865.6" stroke="#000"/>
<path d="M34.6,848.8 35.9,846.4 37.1,843.8 38.4,841.0 39.6,838.1 40.9,834.9 42.1,831.6 43.4,828.1 44.6,824.5 45.9,820.7 47.1,816.9 48.4,813.0 49.6,809.0 50.9,804.9 52.1,800.9 53.4,796.9 54.6,793.0 55.8,789.2 57.1,785.4 58.3,781.8 59.6,778.4 60.8,775.2 62.1,772.3 63.3,769.5 64.6,767.1 65.8,764.9 67.1,763.0 68.3,761.5 69.6,760.3 70.8,759.3 72.1,758.8 73.3,758.5 74.6,758.6 75.8,759.0 77.1,759.7 78.3,760.7 79.6,762.0 80.8,763.5 82.0,765.3 83.3,767.4 84.5,769.6 85.8,772.1 87.0,774.7 88.3,777.5 89.5,780.5 90.8,783.5 92.0,786.7 93.3,789.9 94.5,793.2 95.8,796.5 97.0,799.8 98.3,803.1 99.5,806.5 100.8,809.7 102.0,813.0 103.3,816.2 104.5,819.3 105.8,822.4 107.0,825.3 108.2,828.2 109.5,831.0 110.7,833.7 112.0,836.2 113.2,838.7 114.5,841.0 115.7,843.2 117.0,845.3 118.2,847.3 119.5,849.2 120.7,850.9 122.0,852.6 123.2,854.1 124.5,855.5 125.7,856.8 127.0,858.0 128.2,859.1 129.5,860.1 130.7,861.0 132.0,861.8 133.2,862.5 134.5,863.2 135.7,863.7 136.9,864.2 138.2,864.7 139.4,865.0 140.7,865.4 141.9,865.6 143.2,865.8 144.4,866.0 145.7,866.2 146.9,866.3 148.2,866.3 149.4,866.4 150.7,866.4 151.9,866.4 153.2,866.5 154.4,866.5 155.7,866.5 156.9,866.5 158.2,866.5 159.4,866.5 160.7,866.5 161.9,866.5 163.1,866.5 164.4,866.5 165.6,866.5 166.9,866.5 168.1,866.5 169.4,866.5 170.6,866.5 171.9,866.5 173.1,866.5 174.4,866.5 175.6,866.5 176.9,866.5 178.1,866.5 179.4,866.5 180.6,866.5 181.9,866.5 183.1,866.5 184.4,866.5 185.6,866.5 186.9,866.5 188.1,866.5 189.3,866.5 190.6,866.5 191.8,866.5 193.1,866.5 194.3,866.5 195.6,866.5 196.8,866.5 198.1,866.5 199.3,866.5 200.6,866.5 201.8,866.5 203.1,866.5 204.3,866.5 205.6,866.5 206.8,866.5 208.1,866.5" stroke="#ff0000"/>
<path d="M34.6,852.4 35.9,849.0 37.1,845.3 38.4,841.1 39.6,836.5 40.9,831.6 42.1,826.4 43.4,820.9 44.6,815.3 45.9,809.6 47.1,803.9 48.4,798.3 49.6,792.9 50.9,787.6 52.1,782.7 53.4,778.1 54.6,773.9 55.8,770.1 57.1,766.7 58.3,763.8 59.6,761.5 60.8,759.6 62.1,758.2 63.3,757.2 64.6,756.7 65.8,756.7 67.1,757.0 68.3,757.8 69.6,758.9 70.8,760.3 72.1,762.0 73.3,763.9 74.6,766.1 75.8,768.4 77.1,771.0 78.3,773.6 79.6,776.4 80.8,779.2 82.0,782.1 83.3,785.1 84.5,788.0 85.8,791.0 87.0,794.0 88.3,796.9 89.5,799.8 90.8,802.6 92.0,805.4 93.3,808.2 94.5,810.8 95.8,813.4 97.0,815.9 98.3,818.4 99.5,820.7 100.8,823.0 102.0,825.1 103.3,827.2 104.5,829.2 105.8,831.2 107.0,833.0 108.2,834.8 109.5,836.5 110.7,838.1 112.0,839.6 113.2,841.1 114.5,842.4 115.7,843.8 117.0,845.0 118.2,846.2 119.5,847.3 120.7,848.4 122.0,849.4 123.2,850.4 124.5,851.3 125.7,852.2 127.0,853.0 128.2,853.7 129.5,854.5 130.7,855.2 132.0,855.8 133.2,856.4 134.5,857.0 135.7,857.6 136.9,858.1 138.2,858.6 139.4,859.0 140.7,859.5 141.9,859.9 143.2,860.3 144.4,860.6 145.7,861.0 146.9,861.3 148.2,861.6 149.4,861.9 150.7,862.1 151.9,862.4 153.2,862.6 154.4,862.9 155.7,863.1 156.9,863.3 158.2,863.5 159.4,863.6 160.7,863.8 161.9,864.0 163.1,864.1 164.4,864.3 165.6,864.4 166.9,864.5 168.1,864.6 169.4,864.7 170.6,864.8 171.9,864.9 173.1,865.0 174.4,865.1 175.6,865.2 176.9,865.3 178.1,865.3 179.4,865.4 180.6,865.5 181.9,865.5 183.1,865.6 184.4,865.6 185.6,865.7 186.9,865.7 188.1,865.8 189.3,865.8 190.6,865.9 191.8,865.9 193.1,865.9 194.3,866.0 195.6,866.0 196.8,866.0 198.1,866.0 199.3,866.1 200.6,866.1 201.8,866.1 203.1,866.1 204.3,866.2 205.6,866.2 206.8,866.2 208.1,866.2" stroke="#0000ff"/>
<path d="M34.6,843.2 35.9,841.8 37.1,840.3 38.4,838.8 39.6,837.1 40.9,835.4 42.1,833.6 43.4,831.8 44.6,829.9 45.9,827.9 47.1,825.8 48.4,823.7 49.6,821.5 50.9,819.2 52.1,816.9 53.4,814.5 54.6,812.1 55.8,809.6 57.1,807.1 58.3,804.5 59.6,801.9 60.8,799.3 62.1,796.7 63.3,794.0 64.6,791.4 65.8,788.9 67.1,786.3 68.3,783.8 69.6,781.4 70.8,779.1 72.1,776.9 73.3,774.8 74.6,772.9 75.8,771.1 77.1,769.5 78.3,768.1 79.6,767.0 80.8,766.1 82.0,765.4 83.3,765.0 84.5,765.0 85.8,765.2 87.0,765.7 88.3,766.6 89.5,767.8 90.8,769.4 92.0,771.2 93.3,773.5 94.5,776.0 95.8,778.8 97.0,781.9 98.3,785.3 99.5,789.0 100.8,792.8 102.0,796.8 103.3,801.0 104.5,805.3 105.8,809.6 107.0,814.0 108.2,818.3 109.5,822.6 110.7,826.8 112.0,830.8 113.2,834.7 114.5,838.4 115.7,841.9 117.0,845.1 118.2,848.1 119.5,850.8 120.7,853.2 122.0,855.4 123.2,857.3 124.5,859.0 125.7,860.4 127.0,861.6 128.2,862.6 129.5,863.5 130.7,864.2 132.0,864.7 133.2,865.2 134.5,865.5 135.7,865.8 136.9,866.0 138.2,866.1 139.4,866.2 140.7,866.3 141.9,866.4 143.2,866.4 144.4,866.4 145.7,866.4 146.9,866.4 148.2,866.5 149.4,866.5 150.7,866.5 151.9,866.5 153.2,866.5 154.4,866.5 155.7,866.5 156.9,866.5 158.2,866.5 159.4,866.5 160.7,866.5 161.9,866.5 163.1,866.5 164.4,866.5 165.6,866.5 166.9,866.5 168.1,866.5 169.4,866.5 170.6,866.5 171.9,866.5 173.1,866.5 174.4,866.5 175.6,866.5 176.9,866.5 178.1,866.5 179.4,866.5 180.6,866.5 181.9,866.5 183.1,866.5 184.4,866.5 185.6,866.5 186.9,866.5 188.1,866.5 189.3,866.5 190.6,866.5 191.8,866.5 193.1,866.5 194.3,866.5 195.6,866.5 196.8,866.5 198.1,866.5 199.3,866.5 200.6,866.5 201.8,866.5 203.1,866.5 204.3,866.5 205.6,866.5 206.8,866.5 208.1,866.5" stroke="#00ff00"/>
</g>
<g stroke="#000" stroke-width="0.5" fill="none">
<path d="M27.70,866.46 V712.16 M27.70,866.46 h-3.8 M27.70,827.88 h-3.8 M27.70,789.31 h-3.8 M27.70,750.74 h-3.8 M27.70,712.16 h-3.8"/>
<path d="M62.04,872.36 H179.29 M62.04,872.36 v3.1 M101.12,872.36 v3.1 M140.21,872.36 v3.1 M179.29,872.36 v3.1"/>
</g>
<text transform="translate(20.60,869.16) scale(1,1.06)" text-anchor="end">0.0</text>
<text transform="translate(20.60,830.59) scale(1,1.06)" text-anchor="end">0.5</text>
<text transform="translate(20.60,792.01) scale(1,1.06)" text-anchor="end">1.0</text>
<text transform="translate(20.60,753.44) scale(1,1.06)" text-anchor="end">1.5</text>
<text transform="translate(20.60,714.86) scale(1,1.06)" text-anchor="end">2.0</text>
<text transform="translate(62.04,885.36) scale(1,1.06)" text-anchor="middle">3.0</text>
<text transform="translate(101.12,885.36) scale(1,1.06)" text-anchor="middle">3.5</text>
<text transform="translate(140.21,885.36) scale(1,1.06)" text-anchor="middle">4.0</text>
<text transform="translate(179.29,885.36) scale(1,1.06)" text-anchor="middle">4.5</text>
<text transform="translate(121.35,898.76) scale(1,1.06)" text-anchor="middle">Wind data</text>
<text transform="translate(5.90,789.31) rotate(-90) scale(1,1.06)" text-anchor="middle">Density</text>
<rect x="136.30" y="706.06" width="78.70" height="35.00" fill="#fff" stroke="#000" stroke-width="0.5"/>
<path d="M141.40,713.16 h10.5" stroke="#000" stroke-width="1.2" fill="none"/>
<text transform="translate(211.70,715.46) scale(1,1.06)" text-anchor="end">Observed</text>
<path d="M141.40,720.03 h10.5" stroke="#ff0000" stroke-width="1.2" fill="none"/>
<text transform="translate(211.70,722.33) scale(1,1.06)" text-anchor="end">GEV fit</text>
<path d="M141.40,726.90 h10.5" stroke="#0000ff" stroke-width="1.2" fill="none"/>
<text transform="translate(211.70,729.20) scale(1,1.06)" text-anchor="end">Gumbel fit</text>
<path d="M141.40,733.77 h10.5" stroke="#00ff00" stroke-width="1.2" fill="none"/>
<text transform="translate(211.70,736.07) scale(1,1.06)" text-anchor="end">Weibull fit</text>
</g>
<g id="panel-november">
<text transform="translate(356.15,695.36) scale(1,1.06)" text-anchor="middle" font-size="6.9" font-weight="bold">November</text>
<g clip-path="url(#cp10)" stroke="#000" stroke-width="0.45" fill="#d3d3d3">
<rect x="268.69" y="860.14" width="13.34" height="6.32"/>
<rect x="282.03" y="822.19" width="13.34" height="44.27"/>
<rect x="295.37" y="803.22" width="13.34" height="63.24"/>
<rect x="308.71" y="746.31" width="13.34" height="120.15"/>
<rect x="322.05" y="758.96" width="13.34" height="107.50"/>
<rect x="335.39" y="834.84" width="13.34" height="31.62"/>
<rect x="348.73" y="860.14" width="13.34" height="6.32"/>
<rect x="362.07" y="860.14" width="13.34" height="6.32"/>
</g>
<g clip-path="url(#cp10)" fill="none" stroke-width="1.1" stroke-linejoin="round">
<path d="M254.5,865.8 255.2,865.6 255.9,865.4 256.6,865.1 257.3,864.8 258.0,864.5 258.7,864.3 259.4,864.0 260.1,863.7 260.8,863.4 261.5,863.1 262.2,862.8 262.9,862.5 263.7,862.2 264.4,861.9 265.1,861.6 265.8,861.3 266.5,861.1 267.2,860.8 267.9,860.6 268.6,860.3 269.3,860.1 270.0,859.8 270.7,859.5 271.4,859.2 272.1,858.9 272.8,858.5 273.5,858.0 274.2,857.5 274.9,857.0 275.6,856.3 276.3,855.6 277.0,854.7 277.7,853.8 278.4,852.8 279.1,851.7 279.8,850.5 280.6,849.2 281.3,847.8 282.0,846.4 282.7,844.9 283.4,843.2 284.1,841.5 284.8,839.7 285.5,837.9 286.2,836.0 286.9,834.1 287.6,832.2 288.3,830.3 289.0,828.5 289.7,826.7 290.4,824.9 291.1,823.0 291.8,821.0 292.5,818.8 293.2,816.4 293.9,814.1 294.6,811.7 295.3,809.4 296.0,807.3 296.7,805.4 297.5,803.7 298.2,802.1 298.9,800.7 299.6,799.4 300.3,798.1 301.0,796.7 301.7,795.4 302.4,793.9 303.1,792.2 303.8,790.5 304.5,788.6 305.2,786.5 305.9,784.4 306.6,782.1 307.3,779.7 308.0,777.2 308.7,774.6 309.4,771.9 310.1,769.2 310.8,766.6 311.5,764.3 312.2,762.2 312.9,760.4 313.6,758.8 314.3,757.4 315.1,756.3 315.8,755.5 316.5,754.9 317.2,754.5 317.9,754.3 318.6,754.1 319.3,754.2 320.0,754.3 320.7,754.6 321.4,755.0 322.1,755.6 322.8,756.2 323.5,757.0 324.2,757.9 324.9,759.0 325.6,760.2 326.3,761.6 327.0,763.1 327.7,764.7 328.4,766.4 329.1,768.4 329.8,770.6 330.5,772.9 331.2,775.5 332.0,778.1 332.7,781.0 333.4,783.9 334.1,786.9 334.8,790.0 335.5,793.2 336.2,796.5 336.9,800.0 337.6,803.5 338.3,806.9 339.0,810.4 339.7,814.0 340.4,817.5 341.1,821.0 341.8,824.6 342.5,828.0 343.2,831.3 343.9,834.4 344.6,837.4 345.3,840.1 346.0,842.7 346.7,845.1 347.4,847.4 348.1,849.5 348.9,851.4 349.6,853.0 350.3,854.4 351.0,855.5 351.7,856.5 352.4,857.4 353.1,858.2 353.8,858.8 354.5,859.3 355.2,859.8 355.9,860.1 356.6,860.3 357.3,860.5 358.0,860.7 358.7,860.8 359.4,861.0 360.1,861.1 360.8,861.1 361.5,861.2 362.2,861.2 362.9,861.2 363.6,861.2 364.3,861.2 365.0,861.2 365.7,861.2 366.5,861.2 367.2,861.2 367.9,861.2 368.6,861.2 369.3,861.2 370.0,861.1 370.7,861.0 371.4,860.9 372.1,860.7 372.8,860.6 373.5,860.4 374.2,860.3 374.9,860.3 375.6,860.3 376.3,860.3 377.0,860.4 377.7,860.6 378.4,860.9 379.1,861.1 379.8,861.4 380.5,861.7 381.2,862.0 381.9,862.3 382.6,862.6 383.4,862.9 384.1,863.2 384.8,863.5 385.5,863.8 386.2,864.1 386.9,864.4 387.6,864.6 388.3,864.8 389.0,865.0 389.7,865.2 390.4,865.4 391.1,865.5 391.8,865.6 392.5,865.7 393.2,865.8 393.9,865.9 394.6,866.0" stroke="#000"/>
<path d="M269.4,864.3 270.7,863.6 271.9,862.9 273.2,861.9 274.4,860.8 275.7,859.5 276.9,857.9 278.2,856.1 279.4,854.1 280.7,851.8 281.9,849.2 283.2,846.3 284.4,843.1 285.7,839.6 286.9,835.8 288.2,831.8 289.4,827.6 290.6,823.1 291.9,818.5 293.1,813.8 294.4,809.0 295.6,804.1 296.9,799.3 298.1,794.5 299.4,789.9 300.6,785.4 301.9,781.1 303.1,777.1 304.4,773.4 305.6,770.1 306.9,767.2 308.1,764.6 309.4,762.5 310.6,760.9 311.9,759.7 313.1,759.0 314.4,758.7 315.6,758.9 316.8,759.5 318.1,760.5 319.3,762.0 320.6,763.8 321.8,765.9 323.1,768.4 324.3,771.1 325.6,774.1 326.8,777.3 328.1,780.7 329.3,784.2 330.6,787.8 331.8,791.6 333.1,795.3 334.3,799.1 335.6,802.9 336.8,806.7 338.1,810.4 339.3,814.0 340.6,817.6 341.8,821.1 343.0,824.4 344.3,827.6 345.5,830.7 346.8,833.7 348.0,836.5 349.3,839.2 350.5,841.7 351.8,844.1 353.0,846.3 354.3,848.4 355.5,850.3 356.8,852.1 358.0,853.7 359.3,855.3 360.5,856.6 361.8,857.9 363.0,859.0 364.3,860.1 365.5,861.0 366.8,861.8 368.0,862.6 369.3,863.2 370.5,863.8 371.7,864.3 373.0,864.7 374.2,865.0 375.5,865.3 376.7,865.6 378.0,865.8 379.2,866.0 380.5,866.1 381.7,866.2 383.0,866.3 384.2,866.4 385.5,866.4 386.7,866.4 388.0,866.4 389.2,866.5 390.5,866.5 391.7,866.5 393.0,866.5 394.2,866.5 395.5,866.5 396.7,866.5 397.9,866.5 399.2,866.5 400.4,866.5 401.7,866.5 402.9,866.5 404.2,866.5 405.4,866.5 406.7,866.5 407.9,866.5 409.2,866.5 410.4,866.5 411.7,866.5 412.9,866.5 414.2,866.5 415.4,866.5 416.7,866.5 417.9,866.5 419.2,866.5 420.4,866.5 421.7,866.5 422.9,866.5 424.1,866.5 425.4,866.5 426.6,866.5 427.9,866.5 429.1,866.5 430.4,866.5 431.6,866.5 432.9,866.5 434.1,866.5 435.4,866.5 436.6,866.5 437.9,866.5 439.1,866.5 440.4,866.5 441.6,866.5 442.9,866.5" stroke="#ff0000"/>
<path d="M269.4,865.9 270.7,865.5 271.9,865.0 273.2,864.2 274.4,863.2 275.7,861.9 276.9,860.1 278.2,857.9 279.4,855.2 280.7,852.0 281.9,848.3 283.2,844.1 284.4,839.4 285.7,834.3 286.9,828.8 288.2,823.0 289.4,817.1 290.6,811.1 291.9,805.1 293.1,799.2 294.4,793.5 295.6,788.2 296.9,783.2 298.1,778.7 299.4,774.6 300.6,771.2 301.9,768.2 303.1,765.9 304.4,764.1 305.6,762.9 306.9,762.2 308.1,762.1 309.4,762.4 310.6,763.2 311.9,764.4 313.1,766.0 314.4,767.9 315.6,770.1 316.8,772.5 318.1,775.1 319.3,777.9 320.6,780.8 321.8,783.8 323.1,786.9 324.3,790.0 325.6,793.2 326.8,796.3 328.1,799.4 329.3,802.5 330.6,805.5 331.8,808.5 333.1,811.4 334.3,814.2 335.6,816.9 336.8,819.5 338.1,822.1 339.3,824.5 340.6,826.8 341.8,829.0 343.0,831.2 344.3,833.2 345.5,835.1 346.8,837.0 348.0,838.7 349.3,840.4 350.5,841.9 351.8,843.4 353.0,844.8 354.3,846.2 355.5,847.4 356.8,848.6 358.0,849.7 359.3,850.7 360.5,851.7 361.8,852.7 363.0,853.5 364.3,854.4 365.5,855.1 366.8,855.9 368.0,856.5 369.3,857.2 370.5,857.8 371.7,858.3 373.0,858.9 374.2,859.3 375.5,859.8 376.7,860.2 378.0,860.6 379.2,861.0 380.5,861.4 381.7,861.7 383.0,862.0 384.2,862.3 385.5,862.6 386.7,862.8 388.0,863.1 389.2,863.3 390.5,863.5 391.7,863.7 393.0,863.9 394.2,864.1 395.5,864.2 396.7,864.4 397.9,864.5 399.2,864.6 400.4,864.7 401.7,864.9 402.9,865.0 404.2,865.1 405.4,865.2 406.7,865.2 407.9,865.3 409.2,865.4 410.4,865.5 411.7,865.5 412.9,865.6 414.2,865.7 415.4,865.7 416.7,865.8 417.9,865.8 419.2,865.8 420.4,865.9 421.7,865.9 422.9,866.0 424.1,866.0 425.4,866.0 426.6,866.1 427.9,866.1 429.1,866.1 430.4,866.1 431.6,866.2 432.9,866.2 434.1,866.2 435.4,866.2 436.6,866.2 437.9,866.2 439.1,866.3 440.4,866.3 441.6,866.3 442.9,866.3" stroke="#0000ff"/>
<path d="M269.4,854.4 270.7,853.4 271.9,852.4 273.2,851.3 274.4,850.2 275.7,848.9 276.9,847.6 278.2,846.3 279.4,844.8 280.7,843.2 281.9,841.6 283.2,839.9 284.4,838.1 285.7,836.2 286.9,834.2 288.2,832.1 289.4,829.9 290.6,827.6 291.9,825.3 293.1,822.8 294.4,820.3 295.6,817.7 296.9,815.0 298.1,812.3 299.4,809.5 300.6,806.6 301.9,803.7 303.1,800.8 304.4,797.9 305.6,794.9 306.9,792.0 308.1,789.2 309.4,786.4 310.6,783.7 311.9,781.1 313.1,778.7 314.4,776.4 315.6,774.3 316.8,772.5 318.1,770.9 319.3,769.6 320.6,768.5 321.8,767.9 323.1,767.5 324.3,767.6 325.6,768.0 326.8,768.9 328.1,770.2 329.3,771.9 330.6,774.0 331.8,776.6 333.1,779.5 334.3,782.9 335.6,786.5 336.8,790.5 338.1,794.8 339.3,799.3 340.6,803.9 341.8,808.7 343.0,813.5 344.3,818.3 345.5,823.1 346.8,827.7 348.0,832.2 349.3,836.4 350.5,840.4 351.8,844.2 353.0,847.6 354.3,850.6 355.5,853.4 356.8,855.8 358.0,857.9 359.3,859.6 360.5,861.1 361.8,862.4 363.0,863.4 364.3,864.2 365.5,864.8 366.8,865.3 368.0,865.6 369.3,865.9 370.5,866.1 371.7,866.2 373.0,866.3 374.2,866.4 375.5,866.4 376.7,866.4 378.0,866.4 379.2,866.4 380.5,866.5 381.7,866.5 383.0,866.5 384.2,866.5 385.5,866.5 386.7,866.5 388.0,866.5 389.2,866.5 390.5,866.5 391.7,866.5 393.0,866.5 394.2,866.5 395.5,866.5 396.7,866.5 397.9,866.5 399.2,866.5 400.4,866.5 401.7,866.5 402.9,866.5 404.2,866.5 405.4,866.5 406.7,866.5 407.9,866.5 409.2,866.5 410.4,866.5 411.7,866.5 412.9,866.5 414.2,866.5 415.4,866.5 416.7,866.5 417.9,866.5 419.2,866.5 420.4,866.5 421.7,866.5 422.9,866.5 424.1,866.5 425.4,866.5 426.6,866.5 427.9,866.5 429.1,866.5 430.4,866.5 431.6,866.5 432.9,866.5 434.1,866.5 435.4,866.5 436.6,866.5 437.9,866.5 439.1,866.5 440.4,866.5 441.6,866.5 442.9,866.5" stroke="#00ff00"/>
</g>
<g stroke="#000" stroke-width="0.5" fill="none">
<path d="M262.50,866.46 V712.16 M262.50,866.46 h-3.8 M262.50,827.88 h-3.8 M262.50,789.31 h-3.8 M262.50,750.74 h-3.8 M262.50,712.16 h-3.8"/>
<path d="M275.36,872.36 H442.11 M275.36,872.36 v3.1 M308.71,872.36 v3.1 M342.06,872.36 v3.1 M375.41,872.36 v3.1 M408.76,872.36 v3.1 M442.11,872.36 v3.1"/>
</g>
<text transform="translate(255.40,869.16) scale(1,1.06)" text-anchor="end">0.0</text>
<text transform="translate(255.40,830.59) scale(1,1.06)" text-anchor="end">0.5</text>
<text transform="translate(255.40,792.01) scale(1,1.06)" text-anchor="end">1.0</text>
<text transform="translate(255.40,753.44) scale(1,1.06)" text-anchor="end">1.5</text>
<text transform="translate(255.40,714.86) scale(1,1.06)" text-anchor="end">2.0</text>
<text transform="translate(275.36,885.36) scale(1,1.06)" text-anchor="middle">2.5</text>
<text transform="translate(308.71,885.36) scale(1,1.06)" text-anchor="middle">3.0</text>
<text transform="translate(342.06,885.36) scale(1,1.06)" text-anchor="middle">3.5</text>
<text transform="translate(375.41,885.36) scale(1,1.06)" text-anchor="middle">4.0</text>
<text transform="translate(408.76,885.36) scale(1,1.06)" text-anchor="middle">4.5</text>
<text transform="translate(442.11,885.36) scale(1,1.06)" text-anchor="middle">5.0</text>
<text transform="translate(356.15,898.76) scale(1,1.06)" text-anchor="middle">Wind data</text>
<text transform="translate(240.70,789.31) rotate(-90) scale(1,1.06)" text-anchor="middle">Density</text>
<rect x="371.10" y="706.06" width="78.70" height="35.00" fill="#fff" stroke="#000" stroke-width="0.5"/>
<path d="M376.20,713.16 h10.5" stroke="#000" stroke-width="1.2" fill="none"/>
<text transform="translate(446.50,715.46) scale(1,1.06)" text-anchor="end">Observed</text>
<path d="M376.20,720.03 h10.5" stroke="#ff0000" stroke-width="1.2" fill="none"/>
<text transform="translate(446.50,722.33) scale(1,1.06)" text-anchor="end">GEV fit</text>
<path d="M376.20,726.90 h10.5" stroke="#0000ff" stroke-width="1.2" fill="none"/>
<text transform="translate(446.50,729.20) scale(1,1.06)" text-anchor="end">Gumbel fit</text>
<path d="M376.20,733.77 h10.5" stroke="#00ff00" stroke-width="1.2" fill="none"/>
<text transform="translate(446.50,736.07) scale(1,1.06)" text-anchor="end">Weibull fit</text>
</g>
<g id="panel-december">
<text transform="translate(590.95,695.36) scale(1,1.06)" text-anchor="middle" font-size="6.9" font-weight="bold">December</text>
<g clip-path="url(#cp11)" stroke="#000" stroke-width="0.45" fill="#d3d3d3">
<rect x="480.36" y="863.93" width="30.00" height="2.53"/>
<rect x="510.36" y="856.34" width="30.00" height="10.12"/>
<rect x="540.36" y="793.10" width="30.00" height="73.36"/>
<rect x="570.36" y="805.75" width="30.00" height="60.71"/>
<rect x="600.36" y="858.87" width="30.00" height="7.59"/>
</g>
<g clip-path="url(#cp11)" fill="none" stroke-width="1.1" stroke-linejoin="round">
<path d="M489.3,866.2 490.0,866.1 490.8,865.9 491.5,865.6 492.2,865.4 492.9,865.1 493.7,864.9 494.4,864.6 495.1,864.4 495.8,864.1 496.6,863.8 497.3,863.6 498.0,863.3 498.8,863.0 499.5,862.8 500.2,862.6 500.9,862.4 501.7,862.4 502.4,862.4 503.1,862.4 503.8,862.5 504.6,862.6 505.3,862.7 506.0,862.9 506.7,863.1 507.5,863.4 508.2,863.6 508.9,863.7 509.7,863.9 510.4,864.0 511.1,864.1 511.8,864.1 512.6,864.1 513.3,864.1 514.0,864.1 514.7,864.0 515.5,863.9 516.2,863.8 516.9,863.7 517.7,863.5 518.4,863.3 519.1,863.0 519.8,862.7 520.6,862.4 521.3,861.9 522.0,861.4 522.7,860.8 523.5,860.2 524.2,859.4 524.9,858.5 525.7,857.6 526.4,856.5 527.1,855.4 527.8,854.2 528.6,852.9 529.3,851.5 530.0,850.1 530.7,848.7 531.5,847.3 532.2,845.8 532.9,844.4 533.6,843.0 534.4,841.7 535.1,840.4 535.8,839.3 536.6,838.2 537.3,837.1 538.0,836.2 538.7,835.3 539.5,834.4 540.2,833.4 540.9,832.3 541.6,831.1 542.4,829.8 543.1,828.3 543.8,826.8 544.6,825.1 545.3,823.3 546.0,821.4 546.7,819.5 547.5,817.5 548.2,815.6 548.9,813.6 549.6,811.6 550.4,809.7 551.1,807.7 551.8,805.8 552.6,804.1 553.3,802.4 554.0,800.8 554.7,799.3 555.5,797.5 556.2,795.5 556.9,792.8 557.6,789.8 558.4,786.7 559.1,784.0 559.8,781.9 560.5,780.3 561.3,779.1 562.0,778.1 562.7,777.2 563.5,776.5 564.2,776.0 564.9,775.6 565.6,775.4 566.4,775.4 567.1,775.5 567.8,775.9 568.5,776.3 569.3,776.9 570.0,777.6 570.7,778.5 571.5,779.5 572.2,780.6 572.9,781.7 573.6,782.8 574.4,783.9 575.1,784.9 575.8,785.8 576.5,786.7 577.3,787.6 578.0,788.4 578.7,789.3 579.5,790.1 580.2,791.0 580.9,791.8 581.6,792.7 582.4,793.6 583.1,794.6 583.8,795.7 584.5,796.9 585.3,798.3 586.0,799.9 586.7,801.6 587.4,803.4 588.2,805.3 588.9,807.2 589.6,809.2 590.4,811.3 591.1,813.4 591.8,815.6 592.5,817.8 593.3,820.0 594.0,822.2 594.7,824.3 595.4,826.4 596.2,828.4 596.9,830.4 597.6,832.3 598.4,834.2 599.1,836.0 599.8,837.7 600.5,839.4 601.3,841.0 602.0,842.5 602.7,843.9 603.4,845.3 604.2,846.6 604.9,847.9 605.6,849.1 606.4,850.2 607.1,851.3 607.8,852.3 608.5,853.2 609.3,854.1 610.0,854.9 610.7,855.7 611.4,856.4 612.2,857.1 612.9,857.8 613.6,858.5 614.4,859.1 615.1,859.7 615.8,860.3 616.5,860.8 617.3,861.4 618.0,861.9 618.7,862.4 619.4,862.8 620.2,863.2 620.9,863.6 621.6,863.9 622.3,864.2 623.1,864.5 623.8,864.7 624.5,864.9 625.3,865.1 626.0,865.3 626.7,865.4 627.4,865.5 628.2,865.6 628.9,865.7 629.6,865.8 630.3,865.8 631.1,865.9 631.8,866.0 632.5,866.0 633.3,866.0 634.0,866.0" stroke="#000"/>
<path d="M504.2,866.1 505.5,866.0 506.7,865.9 508.0,865.7 509.2,865.5 510.5,865.3 511.7,865.1 513.0,864.7 514.2,864.4 515.5,863.9 516.7,863.4 518.0,862.9 519.2,862.2 520.5,861.4 521.7,860.6 523.0,859.6 524.2,858.5 525.4,857.2 526.7,855.9 527.9,854.4 529.2,852.7 530.4,850.9 531.7,849.0 532.9,846.9 534.2,844.6 535.4,842.3 536.7,839.7 537.9,837.1 539.2,834.3 540.4,831.5 541.7,828.5 542.9,825.5 544.2,822.4 545.4,819.3 546.7,816.2 547.9,813.1 549.2,810.0 550.4,806.9 551.6,804.0 552.9,801.1 554.1,798.4 555.4,795.8 556.6,793.4 557.9,791.1 559.1,789.0 560.4,787.2 561.6,785.6 562.9,784.3 564.1,783.1 565.4,782.3 566.6,781.7 567.9,781.4 569.1,781.3 570.4,781.5 571.6,782.0 572.9,782.7 574.1,783.7 575.4,784.8 576.6,786.2 577.8,787.9 579.1,789.7 580.3,791.6 581.6,793.8 582.8,796.1 584.1,798.5 585.3,801.0 586.6,803.6 587.8,806.3 589.1,809.0 590.3,811.8 591.6,814.6 592.8,817.4 594.1,820.2 595.3,823.0 596.6,825.7 597.8,828.4 599.1,831.1 600.3,833.6 601.6,836.1 602.8,838.6 604.1,840.9 605.3,843.1 606.5,845.3 607.8,847.3 609.0,849.2 610.3,851.0 611.5,852.7 612.8,854.3 614.0,855.8 615.3,857.2 616.5,858.4 617.8,859.6 619.0,860.6 620.3,861.6 621.5,862.4 622.8,863.2 624.0,863.8 625.3,864.4 626.5,864.9 627.8,865.3 629.0,865.6 630.3,865.9 631.5,866.1 632.7,866.3 634.0,866.4 635.2,866.4 636.5,866.5 637.7,866.5 639.0,866.5 640.2,866.5 641.5,866.5 642.7,866.5 644.0,866.5 645.2,866.5 646.5,866.5 647.7,866.5 649.0,866.5 650.2,866.5 651.5,866.5 652.7,866.5 654.0,866.5 655.2,866.5 656.5,866.5 657.7,866.5 658.9,866.5 660.2,866.5 661.4,866.5 662.7,866.5 663.9,866.5 665.2,866.5 666.4,866.5 667.7,866.5 668.9,866.5 670.2,866.5 671.4,866.5 672.7,866.5 673.9,866.5 675.2,866.5 676.4,866.5 677.7,866.5" stroke="#ff0000"/>
<path d="M504.2,866.4 505.5,866.4 506.7,866.4 508.0,866.3 509.2,866.3 510.5,866.2 511.7,866.0 513.0,865.8 514.2,865.5 515.5,865.1 516.7,864.6 518.0,863.9 519.2,863.1 520.5,862.0 521.7,860.8 523.0,859.4 524.2,857.7 525.4,855.8 526.7,853.6 527.9,851.2 529.2,848.5 530.4,845.7 531.7,842.6 532.9,839.4 534.2,836.0 535.4,832.6 536.7,829.1 537.9,825.5 539.2,822.0 540.4,818.6 541.7,815.2 542.9,812.0 544.2,808.9 545.4,806.0 546.7,803.3 547.9,800.9 549.2,798.7 550.4,796.7 551.6,795.1 552.9,793.7 554.1,792.5 555.4,791.7 556.6,791.1 557.9,790.8 559.1,790.7 560.4,790.8 561.6,791.2 562.9,791.7 564.1,792.5 565.4,793.4 566.6,794.5 567.9,795.7 569.1,797.0 570.4,798.5 571.6,800.0 572.9,801.7 574.1,803.3 575.4,805.1 576.6,806.9 577.8,808.7 579.1,810.5 580.3,812.3 581.6,814.2 582.8,816.0 584.1,817.9 585.3,819.7 586.6,821.4 587.8,823.2 589.1,824.9 590.3,826.6 591.6,828.2 592.8,829.8 594.1,831.4 595.3,832.9 596.6,834.4 597.8,835.8 599.1,837.2 600.3,838.5 601.6,839.8 602.8,841.0 604.1,842.2 605.3,843.4 606.5,844.5 607.8,845.5 609.0,846.5 610.3,847.5 611.5,848.4 612.8,849.3 614.0,850.1 615.3,851.0 616.5,851.7 617.8,852.5 619.0,853.2 620.3,853.8 621.5,854.5 622.8,855.1 624.0,855.7 625.3,856.2 626.5,856.7 627.8,857.2 629.0,857.7 630.3,858.2 631.5,858.6 632.7,859.0 634.0,859.4 635.2,859.8 636.5,860.1 637.7,860.5 639.0,860.8 640.2,861.1 641.5,861.4 642.7,861.6 644.0,861.9 645.2,862.1 646.5,862.3 647.7,862.6 649.0,862.8 650.2,863.0 651.5,863.2 652.7,863.3 654.0,863.5 655.2,863.7 656.5,863.8 657.7,863.9 658.9,864.1 660.2,864.2 661.4,864.3 662.7,864.4 663.9,864.5 665.2,864.7 666.4,864.7 667.7,864.8 668.9,864.9 670.2,865.0 671.4,865.1 672.7,865.2 673.9,865.2 675.2,865.3 676.4,865.4 677.7,865.4" stroke="#0000ff"/>
<path d="M504.2,863.5 505.5,863.3 506.7,862.9 508.0,862.6 509.2,862.2 510.5,861.8 511.7,861.4 513.0,860.9 514.2,860.4 515.5,859.9 516.7,859.3 518.0,858.7 519.2,858.0 520.5,857.3 521.7,856.5 523.0,855.7 524.2,854.8 525.4,853.8 526.7,852.8 527.9,851.7 529.2,850.6 530.4,849.4 531.7,848.1 532.9,846.7 534.2,845.3 535.4,843.8 536.7,842.2 537.9,840.5 539.2,838.7 540.4,836.9 541.7,834.9 542.9,832.9 544.2,830.8 545.4,828.6 546.7,826.4 547.9,824.0 549.2,821.6 550.4,819.2 551.6,816.6 552.9,814.1 554.1,811.5 555.4,808.8 556.6,806.2 557.9,803.6 559.1,800.9 560.4,798.3 561.6,795.8 562.9,793.3 564.1,790.9 565.4,788.7 566.6,786.6 567.9,784.6 569.1,782.8 570.4,781.3 571.6,780.0 572.9,778.9 574.1,778.2 575.4,777.7 576.6,777.6 577.8,777.8 579.1,778.4 580.3,779.3 581.6,780.6 582.8,782.3 584.1,784.3 585.3,786.7 586.6,789.5 587.8,792.6 589.1,795.9 590.3,799.5 591.6,803.3 592.8,807.4 594.1,811.5 595.3,815.7 596.6,820.0 597.8,824.2 599.1,828.4 600.3,832.4 601.6,836.3 602.8,840.0 604.1,843.5 605.3,846.7 606.5,849.7 607.8,852.4 609.0,854.8 610.3,856.9 611.5,858.7 612.8,860.3 614.0,861.6 615.3,862.7 616.5,863.6 617.8,864.3 619.0,864.8 620.3,865.3 621.5,865.6 622.8,865.9 624.0,866.1 625.3,866.2 626.5,866.3 627.8,866.3 629.0,866.4 630.3,866.4 631.5,866.4 632.7,866.4 634.0,866.5 635.2,866.5 636.5,866.5 637.7,866.5 639.0,866.5 640.2,866.5 641.5,866.5 642.7,866.5 644.0,866.5 645.2,866.5 646.5,866.5 647.7,866.5 649.0,866.5 650.2,866.5 651.5,866.5 652.7,866.5 654.0,866.5 655.2,866.5 656.5,866.5 657.7,866.5 658.9,866.5 660.2,866.5 661.4,866.5 662.7,866.5 663.9,866.5 665.2,866.5 666.4,866.5 667.7,866.5 668.9,866.5 670.2,866.5 671.4,866.5 672.7,866.5 673.9,866.5 675.2,866.5 676.4,866.5 677.7,866.5" stroke="#00ff00"/>
</g>
<g stroke="#000" stroke-width="0.5" fill="none">
<path d="M497.30,866.46 V712.16 M497.30,866.46 h-3.8 M497.30,827.88 h-3.8 M497.30,789.31 h-3.8 M497.30,750.74 h-3.8 M497.30,712.16 h-3.8"/>
<path d="M510.36,872.36 H660.36 M510.36,872.36 v3.1 M540.36,872.36 v3.1 M570.36,872.36 v3.1 M600.36,872.36 v3.1 M630.36,872.36 v3.1 M660.36,872.36 v3.1"/>
</g>
<text transform="translate(490.20,869.16) scale(1,1.06)" text-anchor="end">0.0</text>
<text transform="translate(490.20,830.59) scale(1,1.06)" text-anchor="end">0.5</text>
<text transform="translate(490.20,792.01) scale(1,1.06)" text-anchor="end">1.0</text>
<text transform="translate(490.20,753.44) scale(1,1.06)" text-anchor="end">1.5</text>
<text transform="translate(490.20,714.86) scale(1,1.06)" text-anchor="end">2.0</text>
<text transform="translate(510.36,885.36) scale(1,1.06)" text-anchor="middle">2.0</text>
<text transform="translate(540.36,885.36) scale(1,1.06)" text-anchor="middle">2.5</text>
<text transform="translate(570.36,885.36) scale(1,1.06)" text-anchor="middle">3.0</text>
<text transform="translate(600.36,885.36) scale(1,1.06)" text-anchor="middle">3.5</text>
<text transform="translate(630.36,885.36) scale(1,1.06)" text-anchor="middle">4.0</text>
<text transform="translate(660.36,885.36) scale(1,1.06)" text-anchor="middle">4.5</text>
<text transform="translate(590.95,898.76) scale(1,1.06)" text-anchor="middle">Wind data</text>
<text transform="translate(475.50,789.31) rotate(-90) scale(1,1.06)" text-anchor="middle">Density</text>
<rect x="605.90" y="706.06" width="78.70" height="35.00" fill="#fff" stroke="#000" stroke-width="0.5"/>
<path d="M611.00,713.16 h10.5" stroke="#000" stroke-width="1.2" fill="none"/>
<text transform="translate(681.30,715.46) scale(1,1.06)" text-anchor="end">Observed</text>
<path d="M611.00,720.03 h10.5" stroke="#ff0000" stroke-width="1.2" fill="none"/>
<text transform="translate(681.30,722.33) scale(1,1.06)" text-anchor="end">GEV fit</text>
<path d="M611.00,726.90 h10.5" stroke="#0000ff" stroke-width="1.2" fill="none"/>
<text transform="translate(681.30,729.20) scale(1,1.06)" text-anchor="end">Gumbel fit</text>
<path d="M611.00,733.77 h10.5" stroke="#00ff00" stroke-width="1.2" fill="none"/>
<text transform="translate(681.30,736.07) scale(1,1.06)" text-anchor="end">Weibull fit</text>
</g>
</svg>
</body></html>
